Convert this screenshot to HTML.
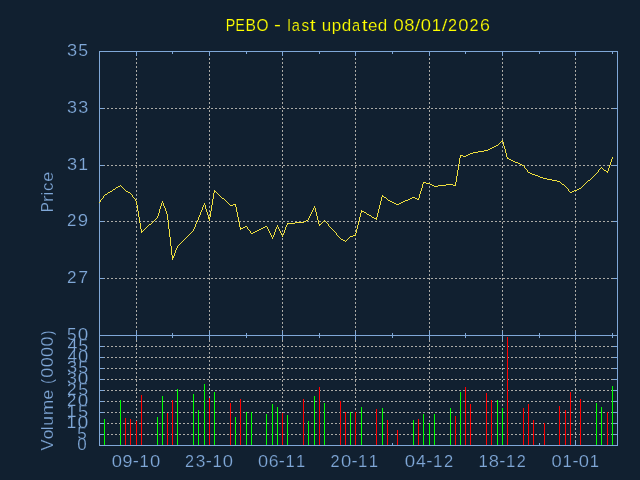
<!DOCTYPE html>
<html><head><meta charset="utf-8"><title>PEBO</title><style>
html,body{margin:0;padding:0;background:#112030;width:640px;height:480px;overflow:hidden}
svg{display:block;will-change:transform}
text{font-family:"Liberation Sans",sans-serif;font-size:17px;stroke:#112030;stroke-width:0.2px}
</style></head><body>
<svg width="640" height="480" viewBox="0 0 640 480">
<rect width="640" height="480" fill="#112030"/>

<path d="M99,278h2v1h-2zM103,278h2v1h-2zM107,278h2v1h-2zM111,278h2v1h-2zM115,278h2v1h-2zM119,278h2v1h-2zM123,278h2v1h-2zM127,278h2v1h-2zM131,278h2v1h-2zM135,278h2v1h-2zM139,278h2v1h-2zM143,278h2v1h-2zM147,278h2v1h-2zM151,278h2v1h-2zM155,278h2v1h-2zM159,278h2v1h-2zM163,278h2v1h-2zM167,278h2v1h-2zM171,278h2v1h-2zM175,278h2v1h-2zM179,278h2v1h-2zM183,278h2v1h-2zM187,278h2v1h-2zM191,278h2v1h-2zM195,278h2v1h-2zM199,278h2v1h-2zM203,278h2v1h-2zM207,278h2v1h-2zM211,278h2v1h-2zM215,278h2v1h-2zM219,278h2v1h-2zM223,278h2v1h-2zM227,278h2v1h-2zM231,278h2v1h-2zM235,278h2v1h-2zM239,278h2v1h-2zM243,278h2v1h-2zM247,278h2v1h-2zM251,278h2v1h-2zM255,278h2v1h-2zM259,278h2v1h-2zM263,278h2v1h-2zM267,278h2v1h-2zM271,278h2v1h-2zM275,278h2v1h-2zM279,278h2v1h-2zM283,278h2v1h-2zM287,278h2v1h-2zM291,278h2v1h-2zM295,278h2v1h-2zM299,278h2v1h-2zM303,278h2v1h-2zM307,278h2v1h-2zM311,278h2v1h-2zM315,278h2v1h-2zM319,278h2v1h-2zM323,278h2v1h-2zM327,278h2v1h-2zM331,278h2v1h-2zM335,278h2v1h-2zM339,278h2v1h-2zM343,278h2v1h-2zM347,278h2v1h-2zM351,278h2v1h-2zM355,278h2v1h-2zM359,278h2v1h-2zM363,278h2v1h-2zM367,278h2v1h-2zM371,278h2v1h-2zM375,278h2v1h-2zM379,278h2v1h-2zM383,278h2v1h-2zM387,278h2v1h-2zM391,278h2v1h-2zM395,278h2v1h-2zM399,278h2v1h-2zM403,278h2v1h-2zM407,278h2v1h-2zM411,278h2v1h-2zM415,278h2v1h-2zM419,278h2v1h-2zM423,278h2v1h-2zM427,278h2v1h-2zM431,278h2v1h-2zM435,278h2v1h-2zM439,278h2v1h-2zM443,278h2v1h-2zM447,278h2v1h-2zM451,278h2v1h-2zM455,278h2v1h-2zM459,278h2v1h-2zM463,278h2v1h-2zM467,278h2v1h-2zM471,278h2v1h-2zM475,278h2v1h-2zM479,278h2v1h-2zM483,278h2v1h-2zM487,278h2v1h-2zM491,278h2v1h-2zM495,278h2v1h-2zM499,278h2v1h-2zM503,278h2v1h-2zM507,278h2v1h-2zM511,278h2v1h-2zM515,278h2v1h-2zM519,278h2v1h-2zM523,278h2v1h-2zM527,278h2v1h-2zM531,278h2v1h-2zM535,278h2v1h-2zM539,278h2v1h-2zM543,278h2v1h-2zM547,278h2v1h-2zM551,278h2v1h-2zM555,278h2v1h-2zM559,278h2v1h-2zM563,278h2v1h-2zM567,278h2v1h-2zM571,278h2v1h-2zM575,278h2v1h-2zM579,278h2v1h-2zM583,278h2v1h-2zM587,278h2v1h-2zM591,278h2v1h-2zM595,278h2v1h-2zM599,278h2v1h-2zM603,278h2v1h-2zM607,278h2v1h-2zM611,278h2v1h-2zM615,278h2v1h-2zM99,221h2v1h-2zM103,221h2v1h-2zM107,221h2v1h-2zM111,221h2v1h-2zM115,221h2v1h-2zM119,221h2v1h-2zM123,221h2v1h-2zM127,221h2v1h-2zM131,221h2v1h-2zM135,221h2v1h-2zM139,221h2v1h-2zM143,221h2v1h-2zM147,221h2v1h-2zM151,221h2v1h-2zM155,221h2v1h-2zM159,221h2v1h-2zM163,221h2v1h-2zM167,221h2v1h-2zM171,221h2v1h-2zM175,221h2v1h-2zM179,221h2v1h-2zM183,221h2v1h-2zM187,221h2v1h-2zM191,221h2v1h-2zM195,221h2v1h-2zM199,221h2v1h-2zM203,221h2v1h-2zM207,221h2v1h-2zM211,221h2v1h-2zM215,221h2v1h-2zM219,221h2v1h-2zM223,221h2v1h-2zM227,221h2v1h-2zM231,221h2v1h-2zM235,221h2v1h-2zM239,221h2v1h-2zM243,221h2v1h-2zM247,221h2v1h-2zM251,221h2v1h-2zM255,221h2v1h-2zM259,221h2v1h-2zM263,221h2v1h-2zM267,221h2v1h-2zM271,221h2v1h-2zM275,221h2v1h-2zM279,221h2v1h-2zM283,221h2v1h-2zM287,221h2v1h-2zM291,221h2v1h-2zM295,221h2v1h-2zM299,221h2v1h-2zM303,221h2v1h-2zM307,221h2v1h-2zM311,221h2v1h-2zM315,221h2v1h-2zM319,221h2v1h-2zM323,221h2v1h-2zM327,221h2v1h-2zM331,221h2v1h-2zM335,221h2v1h-2zM339,221h2v1h-2zM343,221h2v1h-2zM347,221h2v1h-2zM351,221h2v1h-2zM355,221h2v1h-2zM359,221h2v1h-2zM363,221h2v1h-2zM367,221h2v1h-2zM371,221h2v1h-2zM375,221h2v1h-2zM379,221h2v1h-2zM383,221h2v1h-2zM387,221h2v1h-2zM391,221h2v1h-2zM395,221h2v1h-2zM399,221h2v1h-2zM403,221h2v1h-2zM407,221h2v1h-2zM411,221h2v1h-2zM415,221h2v1h-2zM419,221h2v1h-2zM423,221h2v1h-2zM427,221h2v1h-2zM431,221h2v1h-2zM435,221h2v1h-2zM439,221h2v1h-2zM443,221h2v1h-2zM447,221h2v1h-2zM451,221h2v1h-2zM455,221h2v1h-2zM459,221h2v1h-2zM463,221h2v1h-2zM467,221h2v1h-2zM471,221h2v1h-2zM475,221h2v1h-2zM479,221h2v1h-2zM483,221h2v1h-2zM487,221h2v1h-2zM491,221h2v1h-2zM495,221h2v1h-2zM499,221h2v1h-2zM503,221h2v1h-2zM507,221h2v1h-2zM511,221h2v1h-2zM515,221h2v1h-2zM519,221h2v1h-2zM523,221h2v1h-2zM527,221h2v1h-2zM531,221h2v1h-2zM535,221h2v1h-2zM539,221h2v1h-2zM543,221h2v1h-2zM547,221h2v1h-2zM551,221h2v1h-2zM555,221h2v1h-2zM559,221h2v1h-2zM563,221h2v1h-2zM567,221h2v1h-2zM571,221h2v1h-2zM575,221h2v1h-2zM579,221h2v1h-2zM583,221h2v1h-2zM587,221h2v1h-2zM591,221h2v1h-2zM595,221h2v1h-2zM599,221h2v1h-2zM603,221h2v1h-2zM607,221h2v1h-2zM611,221h2v1h-2zM615,221h2v1h-2zM99,165h2v1h-2zM103,165h2v1h-2zM107,165h2v1h-2zM111,165h2v1h-2zM115,165h2v1h-2zM119,165h2v1h-2zM123,165h2v1h-2zM127,165h2v1h-2zM131,165h2v1h-2zM135,165h2v1h-2zM139,165h2v1h-2zM143,165h2v1h-2zM147,165h2v1h-2zM151,165h2v1h-2zM155,165h2v1h-2zM159,165h2v1h-2zM163,165h2v1h-2zM167,165h2v1h-2zM171,165h2v1h-2zM175,165h2v1h-2zM179,165h2v1h-2zM183,165h2v1h-2zM187,165h2v1h-2zM191,165h2v1h-2zM195,165h2v1h-2zM199,165h2v1h-2zM203,165h2v1h-2zM207,165h2v1h-2zM211,165h2v1h-2zM215,165h2v1h-2zM219,165h2v1h-2zM223,165h2v1h-2zM227,165h2v1h-2zM231,165h2v1h-2zM235,165h2v1h-2zM239,165h2v1h-2zM243,165h2v1h-2zM247,165h2v1h-2zM251,165h2v1h-2zM255,165h2v1h-2zM259,165h2v1h-2zM263,165h2v1h-2zM267,165h2v1h-2zM271,165h2v1h-2zM275,165h2v1h-2zM279,165h2v1h-2zM283,165h2v1h-2zM287,165h2v1h-2zM291,165h2v1h-2zM295,165h2v1h-2zM299,165h2v1h-2zM303,165h2v1h-2zM307,165h2v1h-2zM311,165h2v1h-2zM315,165h2v1h-2zM319,165h2v1h-2zM323,165h2v1h-2zM327,165h2v1h-2zM331,165h2v1h-2zM335,165h2v1h-2zM339,165h2v1h-2zM343,165h2v1h-2zM347,165h2v1h-2zM351,165h2v1h-2zM355,165h2v1h-2zM359,165h2v1h-2zM363,165h2v1h-2zM367,165h2v1h-2zM371,165h2v1h-2zM375,165h2v1h-2zM379,165h2v1h-2zM383,165h2v1h-2zM387,165h2v1h-2zM391,165h2v1h-2zM395,165h2v1h-2zM399,165h2v1h-2zM403,165h2v1h-2zM407,165h2v1h-2zM411,165h2v1h-2zM415,165h2v1h-2zM419,165h2v1h-2zM423,165h2v1h-2zM427,165h2v1h-2zM431,165h2v1h-2zM435,165h2v1h-2zM439,165h2v1h-2zM443,165h2v1h-2zM447,165h2v1h-2zM451,165h2v1h-2zM455,165h2v1h-2zM459,165h2v1h-2zM463,165h2v1h-2zM467,165h2v1h-2zM471,165h2v1h-2zM475,165h2v1h-2zM479,165h2v1h-2zM483,165h2v1h-2zM487,165h2v1h-2zM491,165h2v1h-2zM495,165h2v1h-2zM499,165h2v1h-2zM503,165h2v1h-2zM507,165h2v1h-2zM511,165h2v1h-2zM515,165h2v1h-2zM519,165h2v1h-2zM523,165h2v1h-2zM527,165h2v1h-2zM531,165h2v1h-2zM535,165h2v1h-2zM539,165h2v1h-2zM543,165h2v1h-2zM547,165h2v1h-2zM551,165h2v1h-2zM555,165h2v1h-2zM559,165h2v1h-2zM563,165h2v1h-2zM567,165h2v1h-2zM571,165h2v1h-2zM575,165h2v1h-2zM579,165h2v1h-2zM583,165h2v1h-2zM587,165h2v1h-2zM591,165h2v1h-2zM595,165h2v1h-2zM599,165h2v1h-2zM603,165h2v1h-2zM607,165h2v1h-2zM611,165h2v1h-2zM615,165h2v1h-2zM99,108h2v1h-2zM103,108h2v1h-2zM107,108h2v1h-2zM111,108h2v1h-2zM115,108h2v1h-2zM119,108h2v1h-2zM123,108h2v1h-2zM127,108h2v1h-2zM131,108h2v1h-2zM135,108h2v1h-2zM139,108h2v1h-2zM143,108h2v1h-2zM147,108h2v1h-2zM151,108h2v1h-2zM155,108h2v1h-2zM159,108h2v1h-2zM163,108h2v1h-2zM167,108h2v1h-2zM171,108h2v1h-2zM175,108h2v1h-2zM179,108h2v1h-2zM183,108h2v1h-2zM187,108h2v1h-2zM191,108h2v1h-2zM195,108h2v1h-2zM199,108h2v1h-2zM203,108h2v1h-2zM207,108h2v1h-2zM211,108h2v1h-2zM215,108h2v1h-2zM219,108h2v1h-2zM223,108h2v1h-2zM227,108h2v1h-2zM231,108h2v1h-2zM235,108h2v1h-2zM239,108h2v1h-2zM243,108h2v1h-2zM247,108h2v1h-2zM251,108h2v1h-2zM255,108h2v1h-2zM259,108h2v1h-2zM263,108h2v1h-2zM267,108h2v1h-2zM271,108h2v1h-2zM275,108h2v1h-2zM279,108h2v1h-2zM283,108h2v1h-2zM287,108h2v1h-2zM291,108h2v1h-2zM295,108h2v1h-2zM299,108h2v1h-2zM303,108h2v1h-2zM307,108h2v1h-2zM311,108h2v1h-2zM315,108h2v1h-2zM319,108h2v1h-2zM323,108h2v1h-2zM327,108h2v1h-2zM331,108h2v1h-2zM335,108h2v1h-2zM339,108h2v1h-2zM343,108h2v1h-2zM347,108h2v1h-2zM351,108h2v1h-2zM355,108h2v1h-2zM359,108h2v1h-2zM363,108h2v1h-2zM367,108h2v1h-2zM371,108h2v1h-2zM375,108h2v1h-2zM379,108h2v1h-2zM383,108h2v1h-2zM387,108h2v1h-2zM391,108h2v1h-2zM395,108h2v1h-2zM399,108h2v1h-2zM403,108h2v1h-2zM407,108h2v1h-2zM411,108h2v1h-2zM415,108h2v1h-2zM419,108h2v1h-2zM423,108h2v1h-2zM427,108h2v1h-2zM431,108h2v1h-2zM435,108h2v1h-2zM439,108h2v1h-2zM443,108h2v1h-2zM447,108h2v1h-2zM451,108h2v1h-2zM455,108h2v1h-2zM459,108h2v1h-2zM463,108h2v1h-2zM467,108h2v1h-2zM471,108h2v1h-2zM475,108h2v1h-2zM479,108h2v1h-2zM483,108h2v1h-2zM487,108h2v1h-2zM491,108h2v1h-2zM495,108h2v1h-2zM499,108h2v1h-2zM503,108h2v1h-2zM507,108h2v1h-2zM511,108h2v1h-2zM515,108h2v1h-2zM519,108h2v1h-2zM523,108h2v1h-2zM527,108h2v1h-2zM531,108h2v1h-2zM535,108h2v1h-2zM539,108h2v1h-2zM543,108h2v1h-2zM547,108h2v1h-2zM551,108h2v1h-2zM555,108h2v1h-2zM559,108h2v1h-2zM563,108h2v1h-2zM567,108h2v1h-2zM571,108h2v1h-2zM575,108h2v1h-2zM579,108h2v1h-2zM583,108h2v1h-2zM587,108h2v1h-2zM591,108h2v1h-2zM595,108h2v1h-2zM599,108h2v1h-2zM603,108h2v1h-2zM607,108h2v1h-2zM611,108h2v1h-2zM615,108h2v1h-2zM99,434h2v1h-2zM103,434h2v1h-2zM107,434h2v1h-2zM111,434h2v1h-2zM115,434h2v1h-2zM119,434h2v1h-2zM123,434h2v1h-2zM127,434h2v1h-2zM131,434h2v1h-2zM135,434h2v1h-2zM139,434h2v1h-2zM143,434h2v1h-2zM147,434h2v1h-2zM151,434h2v1h-2zM155,434h2v1h-2zM159,434h2v1h-2zM163,434h2v1h-2zM167,434h2v1h-2zM171,434h2v1h-2zM175,434h2v1h-2zM179,434h2v1h-2zM183,434h2v1h-2zM187,434h2v1h-2zM191,434h2v1h-2zM195,434h2v1h-2zM199,434h2v1h-2zM203,434h2v1h-2zM207,434h2v1h-2zM211,434h2v1h-2zM215,434h2v1h-2zM219,434h2v1h-2zM223,434h2v1h-2zM227,434h2v1h-2zM231,434h2v1h-2zM235,434h2v1h-2zM239,434h2v1h-2zM243,434h2v1h-2zM247,434h2v1h-2zM251,434h2v1h-2zM255,434h2v1h-2zM259,434h2v1h-2zM263,434h2v1h-2zM267,434h2v1h-2zM271,434h2v1h-2zM275,434h2v1h-2zM279,434h2v1h-2zM283,434h2v1h-2zM287,434h2v1h-2zM291,434h2v1h-2zM295,434h2v1h-2zM299,434h2v1h-2zM303,434h2v1h-2zM307,434h2v1h-2zM311,434h2v1h-2zM315,434h2v1h-2zM319,434h2v1h-2zM323,434h2v1h-2zM327,434h2v1h-2zM331,434h2v1h-2zM335,434h2v1h-2zM339,434h2v1h-2zM343,434h2v1h-2zM347,434h2v1h-2zM351,434h2v1h-2zM355,434h2v1h-2zM359,434h2v1h-2zM363,434h2v1h-2zM367,434h2v1h-2zM371,434h2v1h-2zM375,434h2v1h-2zM379,434h2v1h-2zM383,434h2v1h-2zM387,434h2v1h-2zM391,434h2v1h-2zM395,434h2v1h-2zM399,434h2v1h-2zM403,434h2v1h-2zM407,434h2v1h-2zM411,434h2v1h-2zM415,434h2v1h-2zM419,434h2v1h-2zM423,434h2v1h-2zM427,434h2v1h-2zM431,434h2v1h-2zM435,434h2v1h-2zM439,434h2v1h-2zM443,434h2v1h-2zM447,434h2v1h-2zM451,434h2v1h-2zM455,434h2v1h-2zM459,434h2v1h-2zM463,434h2v1h-2zM467,434h2v1h-2zM471,434h2v1h-2zM475,434h2v1h-2zM479,434h2v1h-2zM483,434h2v1h-2zM487,434h2v1h-2zM491,434h2v1h-2zM495,434h2v1h-2zM499,434h2v1h-2zM503,434h2v1h-2zM507,434h2v1h-2zM511,434h2v1h-2zM515,434h2v1h-2zM519,434h2v1h-2zM523,434h2v1h-2zM527,434h2v1h-2zM531,434h2v1h-2zM535,434h2v1h-2zM539,434h2v1h-2zM543,434h2v1h-2zM547,434h2v1h-2zM551,434h2v1h-2zM555,434h2v1h-2zM559,434h2v1h-2zM563,434h2v1h-2zM567,434h2v1h-2zM571,434h2v1h-2zM575,434h2v1h-2zM579,434h2v1h-2zM583,434h2v1h-2zM587,434h2v1h-2zM591,434h2v1h-2zM595,434h2v1h-2zM599,434h2v1h-2zM603,434h2v1h-2zM607,434h2v1h-2zM611,434h2v1h-2zM615,434h2v1h-2zM99,423h2v1h-2zM103,423h2v1h-2zM107,423h2v1h-2zM111,423h2v1h-2zM115,423h2v1h-2zM119,423h2v1h-2zM123,423h2v1h-2zM127,423h2v1h-2zM131,423h2v1h-2zM135,423h2v1h-2zM139,423h2v1h-2zM143,423h2v1h-2zM147,423h2v1h-2zM151,423h2v1h-2zM155,423h2v1h-2zM159,423h2v1h-2zM163,423h2v1h-2zM167,423h2v1h-2zM171,423h2v1h-2zM175,423h2v1h-2zM179,423h2v1h-2zM183,423h2v1h-2zM187,423h2v1h-2zM191,423h2v1h-2zM195,423h2v1h-2zM199,423h2v1h-2zM203,423h2v1h-2zM207,423h2v1h-2zM211,423h2v1h-2zM215,423h2v1h-2zM219,423h2v1h-2zM223,423h2v1h-2zM227,423h2v1h-2zM231,423h2v1h-2zM235,423h2v1h-2zM239,423h2v1h-2zM243,423h2v1h-2zM247,423h2v1h-2zM251,423h2v1h-2zM255,423h2v1h-2zM259,423h2v1h-2zM263,423h2v1h-2zM267,423h2v1h-2zM271,423h2v1h-2zM275,423h2v1h-2zM279,423h2v1h-2zM283,423h2v1h-2zM287,423h2v1h-2zM291,423h2v1h-2zM295,423h2v1h-2zM299,423h2v1h-2zM303,423h2v1h-2zM307,423h2v1h-2zM311,423h2v1h-2zM315,423h2v1h-2zM319,423h2v1h-2zM323,423h2v1h-2zM327,423h2v1h-2zM331,423h2v1h-2zM335,423h2v1h-2zM339,423h2v1h-2zM343,423h2v1h-2zM347,423h2v1h-2zM351,423h2v1h-2zM355,423h2v1h-2zM359,423h2v1h-2zM363,423h2v1h-2zM367,423h2v1h-2zM371,423h2v1h-2zM375,423h2v1h-2zM379,423h2v1h-2zM383,423h2v1h-2zM387,423h2v1h-2zM391,423h2v1h-2zM395,423h2v1h-2zM399,423h2v1h-2zM403,423h2v1h-2zM407,423h2v1h-2zM411,423h2v1h-2zM415,423h2v1h-2zM419,423h2v1h-2zM423,423h2v1h-2zM427,423h2v1h-2zM431,423h2v1h-2zM435,423h2v1h-2zM439,423h2v1h-2zM443,423h2v1h-2zM447,423h2v1h-2zM451,423h2v1h-2zM455,423h2v1h-2zM459,423h2v1h-2zM463,423h2v1h-2zM467,423h2v1h-2zM471,423h2v1h-2zM475,423h2v1h-2zM479,423h2v1h-2zM483,423h2v1h-2zM487,423h2v1h-2zM491,423h2v1h-2zM495,423h2v1h-2zM499,423h2v1h-2zM503,423h2v1h-2zM507,423h2v1h-2zM511,423h2v1h-2zM515,423h2v1h-2zM519,423h2v1h-2zM523,423h2v1h-2zM527,423h2v1h-2zM531,423h2v1h-2zM535,423h2v1h-2zM539,423h2v1h-2zM543,423h2v1h-2zM547,423h2v1h-2zM551,423h2v1h-2zM555,423h2v1h-2zM559,423h2v1h-2zM563,423h2v1h-2zM567,423h2v1h-2zM571,423h2v1h-2zM575,423h2v1h-2zM579,423h2v1h-2zM583,423h2v1h-2zM587,423h2v1h-2zM591,423h2v1h-2zM595,423h2v1h-2zM599,423h2v1h-2zM603,423h2v1h-2zM607,423h2v1h-2zM611,423h2v1h-2zM615,423h2v1h-2zM99,412h2v1h-2zM103,412h2v1h-2zM107,412h2v1h-2zM111,412h2v1h-2zM115,412h2v1h-2zM119,412h2v1h-2zM123,412h2v1h-2zM127,412h2v1h-2zM131,412h2v1h-2zM135,412h2v1h-2zM139,412h2v1h-2zM143,412h2v1h-2zM147,412h2v1h-2zM151,412h2v1h-2zM155,412h2v1h-2zM159,412h2v1h-2zM163,412h2v1h-2zM167,412h2v1h-2zM171,412h2v1h-2zM175,412h2v1h-2zM179,412h2v1h-2zM183,412h2v1h-2zM187,412h2v1h-2zM191,412h2v1h-2zM195,412h2v1h-2zM199,412h2v1h-2zM203,412h2v1h-2zM207,412h2v1h-2zM211,412h2v1h-2zM215,412h2v1h-2zM219,412h2v1h-2zM223,412h2v1h-2zM227,412h2v1h-2zM231,412h2v1h-2zM235,412h2v1h-2zM239,412h2v1h-2zM243,412h2v1h-2zM247,412h2v1h-2zM251,412h2v1h-2zM255,412h2v1h-2zM259,412h2v1h-2zM263,412h2v1h-2zM267,412h2v1h-2zM271,412h2v1h-2zM275,412h2v1h-2zM279,412h2v1h-2zM283,412h2v1h-2zM287,412h2v1h-2zM291,412h2v1h-2zM295,412h2v1h-2zM299,412h2v1h-2zM303,412h2v1h-2zM307,412h2v1h-2zM311,412h2v1h-2zM315,412h2v1h-2zM319,412h2v1h-2zM323,412h2v1h-2zM327,412h2v1h-2zM331,412h2v1h-2zM335,412h2v1h-2zM339,412h2v1h-2zM343,412h2v1h-2zM347,412h2v1h-2zM351,412h2v1h-2zM355,412h2v1h-2zM359,412h2v1h-2zM363,412h2v1h-2zM367,412h2v1h-2zM371,412h2v1h-2zM375,412h2v1h-2zM379,412h2v1h-2zM383,412h2v1h-2zM387,412h2v1h-2zM391,412h2v1h-2zM395,412h2v1h-2zM399,412h2v1h-2zM403,412h2v1h-2zM407,412h2v1h-2zM411,412h2v1h-2zM415,412h2v1h-2zM419,412h2v1h-2zM423,412h2v1h-2zM427,412h2v1h-2zM431,412h2v1h-2zM435,412h2v1h-2zM439,412h2v1h-2zM443,412h2v1h-2zM447,412h2v1h-2zM451,412h2v1h-2zM455,412h2v1h-2zM459,412h2v1h-2zM463,412h2v1h-2zM467,412h2v1h-2zM471,412h2v1h-2zM475,412h2v1h-2zM479,412h2v1h-2zM483,412h2v1h-2zM487,412h2v1h-2zM491,412h2v1h-2zM495,412h2v1h-2zM499,412h2v1h-2zM503,412h2v1h-2zM507,412h2v1h-2zM511,412h2v1h-2zM515,412h2v1h-2zM519,412h2v1h-2zM523,412h2v1h-2zM527,412h2v1h-2zM531,412h2v1h-2zM535,412h2v1h-2zM539,412h2v1h-2zM543,412h2v1h-2zM547,412h2v1h-2zM551,412h2v1h-2zM555,412h2v1h-2zM559,412h2v1h-2zM563,412h2v1h-2zM567,412h2v1h-2zM571,412h2v1h-2zM575,412h2v1h-2zM579,412h2v1h-2zM583,412h2v1h-2zM587,412h2v1h-2zM591,412h2v1h-2zM595,412h2v1h-2zM599,412h2v1h-2zM603,412h2v1h-2zM607,412h2v1h-2zM611,412h2v1h-2zM615,412h2v1h-2zM99,401h2v1h-2zM103,401h2v1h-2zM107,401h2v1h-2zM111,401h2v1h-2zM115,401h2v1h-2zM119,401h2v1h-2zM123,401h2v1h-2zM127,401h2v1h-2zM131,401h2v1h-2zM135,401h2v1h-2zM139,401h2v1h-2zM143,401h2v1h-2zM147,401h2v1h-2zM151,401h2v1h-2zM155,401h2v1h-2zM159,401h2v1h-2zM163,401h2v1h-2zM167,401h2v1h-2zM171,401h2v1h-2zM175,401h2v1h-2zM179,401h2v1h-2zM183,401h2v1h-2zM187,401h2v1h-2zM191,401h2v1h-2zM195,401h2v1h-2zM199,401h2v1h-2zM203,401h2v1h-2zM207,401h2v1h-2zM211,401h2v1h-2zM215,401h2v1h-2zM219,401h2v1h-2zM223,401h2v1h-2zM227,401h2v1h-2zM231,401h2v1h-2zM235,401h2v1h-2zM239,401h2v1h-2zM243,401h2v1h-2zM247,401h2v1h-2zM251,401h2v1h-2zM255,401h2v1h-2zM259,401h2v1h-2zM263,401h2v1h-2zM267,401h2v1h-2zM271,401h2v1h-2zM275,401h2v1h-2zM279,401h2v1h-2zM283,401h2v1h-2zM287,401h2v1h-2zM291,401h2v1h-2zM295,401h2v1h-2zM299,401h2v1h-2zM303,401h2v1h-2zM307,401h2v1h-2zM311,401h2v1h-2zM315,401h2v1h-2zM319,401h2v1h-2zM323,401h2v1h-2zM327,401h2v1h-2zM331,401h2v1h-2zM335,401h2v1h-2zM339,401h2v1h-2zM343,401h2v1h-2zM347,401h2v1h-2zM351,401h2v1h-2zM355,401h2v1h-2zM359,401h2v1h-2zM363,401h2v1h-2zM367,401h2v1h-2zM371,401h2v1h-2zM375,401h2v1h-2zM379,401h2v1h-2zM383,401h2v1h-2zM387,401h2v1h-2zM391,401h2v1h-2zM395,401h2v1h-2zM399,401h2v1h-2zM403,401h2v1h-2zM407,401h2v1h-2zM411,401h2v1h-2zM415,401h2v1h-2zM419,401h2v1h-2zM423,401h2v1h-2zM427,401h2v1h-2zM431,401h2v1h-2zM435,401h2v1h-2zM439,401h2v1h-2zM443,401h2v1h-2zM447,401h2v1h-2zM451,401h2v1h-2zM455,401h2v1h-2zM459,401h2v1h-2zM463,401h2v1h-2zM467,401h2v1h-2zM471,401h2v1h-2zM475,401h2v1h-2zM479,401h2v1h-2zM483,401h2v1h-2zM487,401h2v1h-2zM491,401h2v1h-2zM495,401h2v1h-2zM499,401h2v1h-2zM503,401h2v1h-2zM507,401h2v1h-2zM511,401h2v1h-2zM515,401h2v1h-2zM519,401h2v1h-2zM523,401h2v1h-2zM527,401h2v1h-2zM531,401h2v1h-2zM535,401h2v1h-2zM539,401h2v1h-2zM543,401h2v1h-2zM547,401h2v1h-2zM551,401h2v1h-2zM555,401h2v1h-2zM559,401h2v1h-2zM563,401h2v1h-2zM567,401h2v1h-2zM571,401h2v1h-2zM575,401h2v1h-2zM579,401h2v1h-2zM583,401h2v1h-2zM587,401h2v1h-2zM591,401h2v1h-2zM595,401h2v1h-2zM599,401h2v1h-2zM603,401h2v1h-2zM607,401h2v1h-2zM611,401h2v1h-2zM615,401h2v1h-2zM99,390h2v1h-2zM103,390h2v1h-2zM107,390h2v1h-2zM111,390h2v1h-2zM115,390h2v1h-2zM119,390h2v1h-2zM123,390h2v1h-2zM127,390h2v1h-2zM131,390h2v1h-2zM135,390h2v1h-2zM139,390h2v1h-2zM143,390h2v1h-2zM147,390h2v1h-2zM151,390h2v1h-2zM155,390h2v1h-2zM159,390h2v1h-2zM163,390h2v1h-2zM167,390h2v1h-2zM171,390h2v1h-2zM175,390h2v1h-2zM179,390h2v1h-2zM183,390h2v1h-2zM187,390h2v1h-2zM191,390h2v1h-2zM195,390h2v1h-2zM199,390h2v1h-2zM203,390h2v1h-2zM207,390h2v1h-2zM211,390h2v1h-2zM215,390h2v1h-2zM219,390h2v1h-2zM223,390h2v1h-2zM227,390h2v1h-2zM231,390h2v1h-2zM235,390h2v1h-2zM239,390h2v1h-2zM243,390h2v1h-2zM247,390h2v1h-2zM251,390h2v1h-2zM255,390h2v1h-2zM259,390h2v1h-2zM263,390h2v1h-2zM267,390h2v1h-2zM271,390h2v1h-2zM275,390h2v1h-2zM279,390h2v1h-2zM283,390h2v1h-2zM287,390h2v1h-2zM291,390h2v1h-2zM295,390h2v1h-2zM299,390h2v1h-2zM303,390h2v1h-2zM307,390h2v1h-2zM311,390h2v1h-2zM315,390h2v1h-2zM319,390h2v1h-2zM323,390h2v1h-2zM327,390h2v1h-2zM331,390h2v1h-2zM335,390h2v1h-2zM339,390h2v1h-2zM343,390h2v1h-2zM347,390h2v1h-2zM351,390h2v1h-2zM355,390h2v1h-2zM359,390h2v1h-2zM363,390h2v1h-2zM367,390h2v1h-2zM371,390h2v1h-2zM375,390h2v1h-2zM379,390h2v1h-2zM383,390h2v1h-2zM387,390h2v1h-2zM391,390h2v1h-2zM395,390h2v1h-2zM399,390h2v1h-2zM403,390h2v1h-2zM407,390h2v1h-2zM411,390h2v1h-2zM415,390h2v1h-2zM419,390h2v1h-2zM423,390h2v1h-2zM427,390h2v1h-2zM431,390h2v1h-2zM435,390h2v1h-2zM439,390h2v1h-2zM443,390h2v1h-2zM447,390h2v1h-2zM451,390h2v1h-2zM455,390h2v1h-2zM459,390h2v1h-2zM463,390h2v1h-2zM467,390h2v1h-2zM471,390h2v1h-2zM475,390h2v1h-2zM479,390h2v1h-2zM483,390h2v1h-2zM487,390h2v1h-2zM491,390h2v1h-2zM495,390h2v1h-2zM499,390h2v1h-2zM503,390h2v1h-2zM507,390h2v1h-2zM511,390h2v1h-2zM515,390h2v1h-2zM519,390h2v1h-2zM523,390h2v1h-2zM527,390h2v1h-2zM531,390h2v1h-2zM535,390h2v1h-2zM539,390h2v1h-2zM543,390h2v1h-2zM547,390h2v1h-2zM551,390h2v1h-2zM555,390h2v1h-2zM559,390h2v1h-2zM563,390h2v1h-2zM567,390h2v1h-2zM571,390h2v1h-2zM575,390h2v1h-2zM579,390h2v1h-2zM583,390h2v1h-2zM587,390h2v1h-2zM591,390h2v1h-2zM595,390h2v1h-2zM599,390h2v1h-2zM603,390h2v1h-2zM607,390h2v1h-2zM611,390h2v1h-2zM615,390h2v1h-2zM99,379h2v1h-2zM103,379h2v1h-2zM107,379h2v1h-2zM111,379h2v1h-2zM115,379h2v1h-2zM119,379h2v1h-2zM123,379h2v1h-2zM127,379h2v1h-2zM131,379h2v1h-2zM135,379h2v1h-2zM139,379h2v1h-2zM143,379h2v1h-2zM147,379h2v1h-2zM151,379h2v1h-2zM155,379h2v1h-2zM159,379h2v1h-2zM163,379h2v1h-2zM167,379h2v1h-2zM171,379h2v1h-2zM175,379h2v1h-2zM179,379h2v1h-2zM183,379h2v1h-2zM187,379h2v1h-2zM191,379h2v1h-2zM195,379h2v1h-2zM199,379h2v1h-2zM203,379h2v1h-2zM207,379h2v1h-2zM211,379h2v1h-2zM215,379h2v1h-2zM219,379h2v1h-2zM223,379h2v1h-2zM227,379h2v1h-2zM231,379h2v1h-2zM235,379h2v1h-2zM239,379h2v1h-2zM243,379h2v1h-2zM247,379h2v1h-2zM251,379h2v1h-2zM255,379h2v1h-2zM259,379h2v1h-2zM263,379h2v1h-2zM267,379h2v1h-2zM271,379h2v1h-2zM275,379h2v1h-2zM279,379h2v1h-2zM283,379h2v1h-2zM287,379h2v1h-2zM291,379h2v1h-2zM295,379h2v1h-2zM299,379h2v1h-2zM303,379h2v1h-2zM307,379h2v1h-2zM311,379h2v1h-2zM315,379h2v1h-2zM319,379h2v1h-2zM323,379h2v1h-2zM327,379h2v1h-2zM331,379h2v1h-2zM335,379h2v1h-2zM339,379h2v1h-2zM343,379h2v1h-2zM347,379h2v1h-2zM351,379h2v1h-2zM355,379h2v1h-2zM359,379h2v1h-2zM363,379h2v1h-2zM367,379h2v1h-2zM371,379h2v1h-2zM375,379h2v1h-2zM379,379h2v1h-2zM383,379h2v1h-2zM387,379h2v1h-2zM391,379h2v1h-2zM395,379h2v1h-2zM399,379h2v1h-2zM403,379h2v1h-2zM407,379h2v1h-2zM411,379h2v1h-2zM415,379h2v1h-2zM419,379h2v1h-2zM423,379h2v1h-2zM427,379h2v1h-2zM431,379h2v1h-2zM435,379h2v1h-2zM439,379h2v1h-2zM443,379h2v1h-2zM447,379h2v1h-2zM451,379h2v1h-2zM455,379h2v1h-2zM459,379h2v1h-2zM463,379h2v1h-2zM467,379h2v1h-2zM471,379h2v1h-2zM475,379h2v1h-2zM479,379h2v1h-2zM483,379h2v1h-2zM487,379h2v1h-2zM491,379h2v1h-2zM495,379h2v1h-2zM499,379h2v1h-2zM503,379h2v1h-2zM507,379h2v1h-2zM511,379h2v1h-2zM515,379h2v1h-2zM519,379h2v1h-2zM523,379h2v1h-2zM527,379h2v1h-2zM531,379h2v1h-2zM535,379h2v1h-2zM539,379h2v1h-2zM543,379h2v1h-2zM547,379h2v1h-2zM551,379h2v1h-2zM555,379h2v1h-2zM559,379h2v1h-2zM563,379h2v1h-2zM567,379h2v1h-2zM571,379h2v1h-2zM575,379h2v1h-2zM579,379h2v1h-2zM583,379h2v1h-2zM587,379h2v1h-2zM591,379h2v1h-2zM595,379h2v1h-2zM599,379h2v1h-2zM603,379h2v1h-2zM607,379h2v1h-2zM611,379h2v1h-2zM615,379h2v1h-2zM99,368h2v1h-2zM103,368h2v1h-2zM107,368h2v1h-2zM111,368h2v1h-2zM115,368h2v1h-2zM119,368h2v1h-2zM123,368h2v1h-2zM127,368h2v1h-2zM131,368h2v1h-2zM135,368h2v1h-2zM139,368h2v1h-2zM143,368h2v1h-2zM147,368h2v1h-2zM151,368h2v1h-2zM155,368h2v1h-2zM159,368h2v1h-2zM163,368h2v1h-2zM167,368h2v1h-2zM171,368h2v1h-2zM175,368h2v1h-2zM179,368h2v1h-2zM183,368h2v1h-2zM187,368h2v1h-2zM191,368h2v1h-2zM195,368h2v1h-2zM199,368h2v1h-2zM203,368h2v1h-2zM207,368h2v1h-2zM211,368h2v1h-2zM215,368h2v1h-2zM219,368h2v1h-2zM223,368h2v1h-2zM227,368h2v1h-2zM231,368h2v1h-2zM235,368h2v1h-2zM239,368h2v1h-2zM243,368h2v1h-2zM247,368h2v1h-2zM251,368h2v1h-2zM255,368h2v1h-2zM259,368h2v1h-2zM263,368h2v1h-2zM267,368h2v1h-2zM271,368h2v1h-2zM275,368h2v1h-2zM279,368h2v1h-2zM283,368h2v1h-2zM287,368h2v1h-2zM291,368h2v1h-2zM295,368h2v1h-2zM299,368h2v1h-2zM303,368h2v1h-2zM307,368h2v1h-2zM311,368h2v1h-2zM315,368h2v1h-2zM319,368h2v1h-2zM323,368h2v1h-2zM327,368h2v1h-2zM331,368h2v1h-2zM335,368h2v1h-2zM339,368h2v1h-2zM343,368h2v1h-2zM347,368h2v1h-2zM351,368h2v1h-2zM355,368h2v1h-2zM359,368h2v1h-2zM363,368h2v1h-2zM367,368h2v1h-2zM371,368h2v1h-2zM375,368h2v1h-2zM379,368h2v1h-2zM383,368h2v1h-2zM387,368h2v1h-2zM391,368h2v1h-2zM395,368h2v1h-2zM399,368h2v1h-2zM403,368h2v1h-2zM407,368h2v1h-2zM411,368h2v1h-2zM415,368h2v1h-2zM419,368h2v1h-2zM423,368h2v1h-2zM427,368h2v1h-2zM431,368h2v1h-2zM435,368h2v1h-2zM439,368h2v1h-2zM443,368h2v1h-2zM447,368h2v1h-2zM451,368h2v1h-2zM455,368h2v1h-2zM459,368h2v1h-2zM463,368h2v1h-2zM467,368h2v1h-2zM471,368h2v1h-2zM475,368h2v1h-2zM479,368h2v1h-2zM483,368h2v1h-2zM487,368h2v1h-2zM491,368h2v1h-2zM495,368h2v1h-2zM499,368h2v1h-2zM503,368h2v1h-2zM507,368h2v1h-2zM511,368h2v1h-2zM515,368h2v1h-2zM519,368h2v1h-2zM523,368h2v1h-2zM527,368h2v1h-2zM531,368h2v1h-2zM535,368h2v1h-2zM539,368h2v1h-2zM543,368h2v1h-2zM547,368h2v1h-2zM551,368h2v1h-2zM555,368h2v1h-2zM559,368h2v1h-2zM563,368h2v1h-2zM567,368h2v1h-2zM571,368h2v1h-2zM575,368h2v1h-2zM579,368h2v1h-2zM583,368h2v1h-2zM587,368h2v1h-2zM591,368h2v1h-2zM595,368h2v1h-2zM599,368h2v1h-2zM603,368h2v1h-2zM607,368h2v1h-2zM611,368h2v1h-2zM615,368h2v1h-2zM99,357h2v1h-2zM103,357h2v1h-2zM107,357h2v1h-2zM111,357h2v1h-2zM115,357h2v1h-2zM119,357h2v1h-2zM123,357h2v1h-2zM127,357h2v1h-2zM131,357h2v1h-2zM135,357h2v1h-2zM139,357h2v1h-2zM143,357h2v1h-2zM147,357h2v1h-2zM151,357h2v1h-2zM155,357h2v1h-2zM159,357h2v1h-2zM163,357h2v1h-2zM167,357h2v1h-2zM171,357h2v1h-2zM175,357h2v1h-2zM179,357h2v1h-2zM183,357h2v1h-2zM187,357h2v1h-2zM191,357h2v1h-2zM195,357h2v1h-2zM199,357h2v1h-2zM203,357h2v1h-2zM207,357h2v1h-2zM211,357h2v1h-2zM215,357h2v1h-2zM219,357h2v1h-2zM223,357h2v1h-2zM227,357h2v1h-2zM231,357h2v1h-2zM235,357h2v1h-2zM239,357h2v1h-2zM243,357h2v1h-2zM247,357h2v1h-2zM251,357h2v1h-2zM255,357h2v1h-2zM259,357h2v1h-2zM263,357h2v1h-2zM267,357h2v1h-2zM271,357h2v1h-2zM275,357h2v1h-2zM279,357h2v1h-2zM283,357h2v1h-2zM287,357h2v1h-2zM291,357h2v1h-2zM295,357h2v1h-2zM299,357h2v1h-2zM303,357h2v1h-2zM307,357h2v1h-2zM311,357h2v1h-2zM315,357h2v1h-2zM319,357h2v1h-2zM323,357h2v1h-2zM327,357h2v1h-2zM331,357h2v1h-2zM335,357h2v1h-2zM339,357h2v1h-2zM343,357h2v1h-2zM347,357h2v1h-2zM351,357h2v1h-2zM355,357h2v1h-2zM359,357h2v1h-2zM363,357h2v1h-2zM367,357h2v1h-2zM371,357h2v1h-2zM375,357h2v1h-2zM379,357h2v1h-2zM383,357h2v1h-2zM387,357h2v1h-2zM391,357h2v1h-2zM395,357h2v1h-2zM399,357h2v1h-2zM403,357h2v1h-2zM407,357h2v1h-2zM411,357h2v1h-2zM415,357h2v1h-2zM419,357h2v1h-2zM423,357h2v1h-2zM427,357h2v1h-2zM431,357h2v1h-2zM435,357h2v1h-2zM439,357h2v1h-2zM443,357h2v1h-2zM447,357h2v1h-2zM451,357h2v1h-2zM455,357h2v1h-2zM459,357h2v1h-2zM463,357h2v1h-2zM467,357h2v1h-2zM471,357h2v1h-2zM475,357h2v1h-2zM479,357h2v1h-2zM483,357h2v1h-2zM487,357h2v1h-2zM491,357h2v1h-2zM495,357h2v1h-2zM499,357h2v1h-2zM503,357h2v1h-2zM507,357h2v1h-2zM511,357h2v1h-2zM515,357h2v1h-2zM519,357h2v1h-2zM523,357h2v1h-2zM527,357h2v1h-2zM531,357h2v1h-2zM535,357h2v1h-2zM539,357h2v1h-2zM543,357h2v1h-2zM547,357h2v1h-2zM551,357h2v1h-2zM555,357h2v1h-2zM559,357h2v1h-2zM563,357h2v1h-2zM567,357h2v1h-2zM571,357h2v1h-2zM575,357h2v1h-2zM579,357h2v1h-2zM583,357h2v1h-2zM587,357h2v1h-2zM591,357h2v1h-2zM595,357h2v1h-2zM599,357h2v1h-2zM603,357h2v1h-2zM607,357h2v1h-2zM611,357h2v1h-2zM615,357h2v1h-2zM99,346h2v1h-2zM103,346h2v1h-2zM107,346h2v1h-2zM111,346h2v1h-2zM115,346h2v1h-2zM119,346h2v1h-2zM123,346h2v1h-2zM127,346h2v1h-2zM131,346h2v1h-2zM135,346h2v1h-2zM139,346h2v1h-2zM143,346h2v1h-2zM147,346h2v1h-2zM151,346h2v1h-2zM155,346h2v1h-2zM159,346h2v1h-2zM163,346h2v1h-2zM167,346h2v1h-2zM171,346h2v1h-2zM175,346h2v1h-2zM179,346h2v1h-2zM183,346h2v1h-2zM187,346h2v1h-2zM191,346h2v1h-2zM195,346h2v1h-2zM199,346h2v1h-2zM203,346h2v1h-2zM207,346h2v1h-2zM211,346h2v1h-2zM215,346h2v1h-2zM219,346h2v1h-2zM223,346h2v1h-2zM227,346h2v1h-2zM231,346h2v1h-2zM235,346h2v1h-2zM239,346h2v1h-2zM243,346h2v1h-2zM247,346h2v1h-2zM251,346h2v1h-2zM255,346h2v1h-2zM259,346h2v1h-2zM263,346h2v1h-2zM267,346h2v1h-2zM271,346h2v1h-2zM275,346h2v1h-2zM279,346h2v1h-2zM283,346h2v1h-2zM287,346h2v1h-2zM291,346h2v1h-2zM295,346h2v1h-2zM299,346h2v1h-2zM303,346h2v1h-2zM307,346h2v1h-2zM311,346h2v1h-2zM315,346h2v1h-2zM319,346h2v1h-2zM323,346h2v1h-2zM327,346h2v1h-2zM331,346h2v1h-2zM335,346h2v1h-2zM339,346h2v1h-2zM343,346h2v1h-2zM347,346h2v1h-2zM351,346h2v1h-2zM355,346h2v1h-2zM359,346h2v1h-2zM363,346h2v1h-2zM367,346h2v1h-2zM371,346h2v1h-2zM375,346h2v1h-2zM379,346h2v1h-2zM383,346h2v1h-2zM387,346h2v1h-2zM391,346h2v1h-2zM395,346h2v1h-2zM399,346h2v1h-2zM403,346h2v1h-2zM407,346h2v1h-2zM411,346h2v1h-2zM415,346h2v1h-2zM419,346h2v1h-2zM423,346h2v1h-2zM427,346h2v1h-2zM431,346h2v1h-2zM435,346h2v1h-2zM439,346h2v1h-2zM443,346h2v1h-2zM447,346h2v1h-2zM451,346h2v1h-2zM455,346h2v1h-2zM459,346h2v1h-2zM463,346h2v1h-2zM467,346h2v1h-2zM471,346h2v1h-2zM475,346h2v1h-2zM479,346h2v1h-2zM483,346h2v1h-2zM487,346h2v1h-2zM491,346h2v1h-2zM495,346h2v1h-2zM499,346h2v1h-2zM503,346h2v1h-2zM507,346h2v1h-2zM511,346h2v1h-2zM515,346h2v1h-2zM519,346h2v1h-2zM523,346h2v1h-2zM527,346h2v1h-2zM531,346h2v1h-2zM535,346h2v1h-2zM539,346h2v1h-2zM543,346h2v1h-2zM547,346h2v1h-2zM551,346h2v1h-2zM555,346h2v1h-2zM559,346h2v1h-2zM563,346h2v1h-2zM567,346h2v1h-2zM571,346h2v1h-2zM575,346h2v1h-2zM579,346h2v1h-2zM583,346h2v1h-2zM587,346h2v1h-2zM591,346h2v1h-2zM595,346h2v1h-2zM599,346h2v1h-2zM603,346h2v1h-2zM607,346h2v1h-2zM611,346h2v1h-2zM615,346h2v1h-2zM136,54h1v2h-1zM136,58h1v2h-1zM136,62h1v2h-1zM136,66h1v2h-1zM136,70h1v2h-1zM136,74h1v2h-1zM136,78h1v2h-1zM136,82h1v2h-1zM136,86h1v2h-1zM136,90h1v2h-1zM136,94h1v2h-1zM136,98h1v2h-1zM136,102h1v2h-1zM136,106h1v2h-1zM136,110h1v2h-1zM136,114h1v2h-1zM136,118h1v2h-1zM136,122h1v2h-1zM136,126h1v2h-1zM136,130h1v2h-1zM136,134h1v2h-1zM136,138h1v2h-1zM136,142h1v2h-1zM136,146h1v2h-1zM136,150h1v2h-1zM136,154h1v2h-1zM136,158h1v2h-1zM136,162h1v2h-1zM136,166h1v2h-1zM136,170h1v2h-1zM136,174h1v2h-1zM136,178h1v2h-1zM136,182h1v2h-1zM136,186h1v2h-1zM136,190h1v2h-1zM136,194h1v2h-1zM136,198h1v2h-1zM136,202h1v2h-1zM136,206h1v2h-1zM136,210h1v2h-1zM136,214h1v2h-1zM136,218h1v2h-1zM136,222h1v2h-1zM136,226h1v2h-1zM136,230h1v2h-1zM136,234h1v2h-1zM136,238h1v2h-1zM136,242h1v2h-1zM136,246h1v2h-1zM136,250h1v2h-1zM136,254h1v2h-1zM136,258h1v2h-1zM136,262h1v2h-1zM136,266h1v2h-1zM136,270h1v2h-1zM136,274h1v2h-1zM136,278h1v2h-1zM136,282h1v2h-1zM136,286h1v2h-1zM136,290h1v2h-1zM136,294h1v2h-1zM136,298h1v2h-1zM136,302h1v2h-1zM136,306h1v2h-1zM136,310h1v2h-1zM136,314h1v2h-1zM136,318h1v2h-1zM136,322h1v2h-1zM136,326h1v2h-1zM136,330h1v2h-1zM136,334h1v2h-1zM136,336h1v2h-1zM136,340h1v2h-1zM136,344h1v2h-1zM136,348h1v2h-1zM136,352h1v2h-1zM136,356h1v2h-1zM136,360h1v2h-1zM136,364h1v2h-1zM136,368h1v2h-1zM136,372h1v2h-1zM136,376h1v2h-1zM136,380h1v2h-1zM136,384h1v2h-1zM136,388h1v2h-1zM136,392h1v2h-1zM136,396h1v2h-1zM136,400h1v2h-1zM136,404h1v2h-1zM136,408h1v2h-1zM136,412h1v2h-1zM136,416h1v2h-1zM136,420h1v2h-1zM136,424h1v2h-1zM136,428h1v2h-1zM136,432h1v2h-1zM136,436h1v2h-1zM136,440h1v2h-1zM136,444h1v2h-1zM209,54h1v2h-1zM209,58h1v2h-1zM209,62h1v2h-1zM209,66h1v2h-1zM209,70h1v2h-1zM209,74h1v2h-1zM209,78h1v2h-1zM209,82h1v2h-1zM209,86h1v2h-1zM209,90h1v2h-1zM209,94h1v2h-1zM209,98h1v2h-1zM209,102h1v2h-1zM209,106h1v2h-1zM209,110h1v2h-1zM209,114h1v2h-1zM209,118h1v2h-1zM209,122h1v2h-1zM209,126h1v2h-1zM209,130h1v2h-1zM209,134h1v2h-1zM209,138h1v2h-1zM209,142h1v2h-1zM209,146h1v2h-1zM209,150h1v2h-1zM209,154h1v2h-1zM209,158h1v2h-1zM209,162h1v2h-1zM209,166h1v2h-1zM209,170h1v2h-1zM209,174h1v2h-1zM209,178h1v2h-1zM209,182h1v2h-1zM209,186h1v2h-1zM209,190h1v2h-1zM209,194h1v2h-1zM209,198h1v2h-1zM209,202h1v2h-1zM209,206h1v2h-1zM209,210h1v2h-1zM209,214h1v2h-1zM209,218h1v2h-1zM209,222h1v2h-1zM209,226h1v2h-1zM209,230h1v2h-1zM209,234h1v2h-1zM209,238h1v2h-1zM209,242h1v2h-1zM209,246h1v2h-1zM209,250h1v2h-1zM209,254h1v2h-1zM209,258h1v2h-1zM209,262h1v2h-1zM209,266h1v2h-1zM209,270h1v2h-1zM209,274h1v2h-1zM209,278h1v2h-1zM209,282h1v2h-1zM209,286h1v2h-1zM209,290h1v2h-1zM209,294h1v2h-1zM209,298h1v2h-1zM209,302h1v2h-1zM209,306h1v2h-1zM209,310h1v2h-1zM209,314h1v2h-1zM209,318h1v2h-1zM209,322h1v2h-1zM209,326h1v2h-1zM209,330h1v2h-1zM209,334h1v2h-1zM209,336h1v2h-1zM209,340h1v2h-1zM209,344h1v2h-1zM209,348h1v2h-1zM209,352h1v2h-1zM209,356h1v2h-1zM209,360h1v2h-1zM209,364h1v2h-1zM209,368h1v2h-1zM209,372h1v2h-1zM209,376h1v2h-1zM209,380h1v2h-1zM209,384h1v2h-1zM209,388h1v2h-1zM209,392h1v2h-1zM209,396h1v2h-1zM209,400h1v2h-1zM209,404h1v2h-1zM209,408h1v2h-1zM209,412h1v2h-1zM209,416h1v2h-1zM209,420h1v2h-1zM209,424h1v2h-1zM209,428h1v2h-1zM209,432h1v2h-1zM209,436h1v2h-1zM209,440h1v2h-1zM209,444h1v2h-1zM282,54h1v2h-1zM282,58h1v2h-1zM282,62h1v2h-1zM282,66h1v2h-1zM282,70h1v2h-1zM282,74h1v2h-1zM282,78h1v2h-1zM282,82h1v2h-1zM282,86h1v2h-1zM282,90h1v2h-1zM282,94h1v2h-1zM282,98h1v2h-1zM282,102h1v2h-1zM282,106h1v2h-1zM282,110h1v2h-1zM282,114h1v2h-1zM282,118h1v2h-1zM282,122h1v2h-1zM282,126h1v2h-1zM282,130h1v2h-1zM282,134h1v2h-1zM282,138h1v2h-1zM282,142h1v2h-1zM282,146h1v2h-1zM282,150h1v2h-1zM282,154h1v2h-1zM282,158h1v2h-1zM282,162h1v2h-1zM282,166h1v2h-1zM282,170h1v2h-1zM282,174h1v2h-1zM282,178h1v2h-1zM282,182h1v2h-1zM282,186h1v2h-1zM282,190h1v2h-1zM282,194h1v2h-1zM282,198h1v2h-1zM282,202h1v2h-1zM282,206h1v2h-1zM282,210h1v2h-1zM282,214h1v2h-1zM282,218h1v2h-1zM282,222h1v2h-1zM282,226h1v2h-1zM282,230h1v2h-1zM282,234h1v2h-1zM282,238h1v2h-1zM282,242h1v2h-1zM282,246h1v2h-1zM282,250h1v2h-1zM282,254h1v2h-1zM282,258h1v2h-1zM282,262h1v2h-1zM282,266h1v2h-1zM282,270h1v2h-1zM282,274h1v2h-1zM282,278h1v2h-1zM282,282h1v2h-1zM282,286h1v2h-1zM282,290h1v2h-1zM282,294h1v2h-1zM282,298h1v2h-1zM282,302h1v2h-1zM282,306h1v2h-1zM282,310h1v2h-1zM282,314h1v2h-1zM282,318h1v2h-1zM282,322h1v2h-1zM282,326h1v2h-1zM282,330h1v2h-1zM282,334h1v2h-1zM282,336h1v2h-1zM282,340h1v2h-1zM282,344h1v2h-1zM282,348h1v2h-1zM282,352h1v2h-1zM282,356h1v2h-1zM282,360h1v2h-1zM282,364h1v2h-1zM282,368h1v2h-1zM282,372h1v2h-1zM282,376h1v2h-1zM282,380h1v2h-1zM282,384h1v2h-1zM282,388h1v2h-1zM282,392h1v2h-1zM282,396h1v2h-1zM282,400h1v2h-1zM282,404h1v2h-1zM282,408h1v2h-1zM282,412h1v2h-1zM282,416h1v2h-1zM282,420h1v2h-1zM282,424h1v2h-1zM282,428h1v2h-1zM282,432h1v2h-1zM282,436h1v2h-1zM282,440h1v2h-1zM282,444h1v2h-1zM355,54h1v2h-1zM355,58h1v2h-1zM355,62h1v2h-1zM355,66h1v2h-1zM355,70h1v2h-1zM355,74h1v2h-1zM355,78h1v2h-1zM355,82h1v2h-1zM355,86h1v2h-1zM355,90h1v2h-1zM355,94h1v2h-1zM355,98h1v2h-1zM355,102h1v2h-1zM355,106h1v2h-1zM355,110h1v2h-1zM355,114h1v2h-1zM355,118h1v2h-1zM355,122h1v2h-1zM355,126h1v2h-1zM355,130h1v2h-1zM355,134h1v2h-1zM355,138h1v2h-1zM355,142h1v2h-1zM355,146h1v2h-1zM355,150h1v2h-1zM355,154h1v2h-1zM355,158h1v2h-1zM355,162h1v2h-1zM355,166h1v2h-1zM355,170h1v2h-1zM355,174h1v2h-1zM355,178h1v2h-1zM355,182h1v2h-1zM355,186h1v2h-1zM355,190h1v2h-1zM355,194h1v2h-1zM355,198h1v2h-1zM355,202h1v2h-1zM355,206h1v2h-1zM355,210h1v2h-1zM355,214h1v2h-1zM355,218h1v2h-1zM355,222h1v2h-1zM355,226h1v2h-1zM355,230h1v2h-1zM355,234h1v2h-1zM355,238h1v2h-1zM355,242h1v2h-1zM355,246h1v2h-1zM355,250h1v2h-1zM355,254h1v2h-1zM355,258h1v2h-1zM355,262h1v2h-1zM355,266h1v2h-1zM355,270h1v2h-1zM355,274h1v2h-1zM355,278h1v2h-1zM355,282h1v2h-1zM355,286h1v2h-1zM355,290h1v2h-1zM355,294h1v2h-1zM355,298h1v2h-1zM355,302h1v2h-1zM355,306h1v2h-1zM355,310h1v2h-1zM355,314h1v2h-1zM355,318h1v2h-1zM355,322h1v2h-1zM355,326h1v2h-1zM355,330h1v2h-1zM355,334h1v2h-1zM355,336h1v2h-1zM355,340h1v2h-1zM355,344h1v2h-1zM355,348h1v2h-1zM355,352h1v2h-1zM355,356h1v2h-1zM355,360h1v2h-1zM355,364h1v2h-1zM355,368h1v2h-1zM355,372h1v2h-1zM355,376h1v2h-1zM355,380h1v2h-1zM355,384h1v2h-1zM355,388h1v2h-1zM355,392h1v2h-1zM355,396h1v2h-1zM355,400h1v2h-1zM355,404h1v2h-1zM355,408h1v2h-1zM355,412h1v2h-1zM355,416h1v2h-1zM355,420h1v2h-1zM355,424h1v2h-1zM355,428h1v2h-1zM355,432h1v2h-1zM355,436h1v2h-1zM355,440h1v2h-1zM355,444h1v2h-1zM429,54h1v2h-1zM429,58h1v2h-1zM429,62h1v2h-1zM429,66h1v2h-1zM429,70h1v2h-1zM429,74h1v2h-1zM429,78h1v2h-1zM429,82h1v2h-1zM429,86h1v2h-1zM429,90h1v2h-1zM429,94h1v2h-1zM429,98h1v2h-1zM429,102h1v2h-1zM429,106h1v2h-1zM429,110h1v2h-1zM429,114h1v2h-1zM429,118h1v2h-1zM429,122h1v2h-1zM429,126h1v2h-1zM429,130h1v2h-1zM429,134h1v2h-1zM429,138h1v2h-1zM429,142h1v2h-1zM429,146h1v2h-1zM429,150h1v2h-1zM429,154h1v2h-1zM429,158h1v2h-1zM429,162h1v2h-1zM429,166h1v2h-1zM429,170h1v2h-1zM429,174h1v2h-1zM429,178h1v2h-1zM429,182h1v2h-1zM429,186h1v2h-1zM429,190h1v2h-1zM429,194h1v2h-1zM429,198h1v2h-1zM429,202h1v2h-1zM429,206h1v2h-1zM429,210h1v2h-1zM429,214h1v2h-1zM429,218h1v2h-1zM429,222h1v2h-1zM429,226h1v2h-1zM429,230h1v2h-1zM429,234h1v2h-1zM429,238h1v2h-1zM429,242h1v2h-1zM429,246h1v2h-1zM429,250h1v2h-1zM429,254h1v2h-1zM429,258h1v2h-1zM429,262h1v2h-1zM429,266h1v2h-1zM429,270h1v2h-1zM429,274h1v2h-1zM429,278h1v2h-1zM429,282h1v2h-1zM429,286h1v2h-1zM429,290h1v2h-1zM429,294h1v2h-1zM429,298h1v2h-1zM429,302h1v2h-1zM429,306h1v2h-1zM429,310h1v2h-1zM429,314h1v2h-1zM429,318h1v2h-1zM429,322h1v2h-1zM429,326h1v2h-1zM429,330h1v2h-1zM429,334h1v2h-1zM429,336h1v2h-1zM429,340h1v2h-1zM429,344h1v2h-1zM429,348h1v2h-1zM429,352h1v2h-1zM429,356h1v2h-1zM429,360h1v2h-1zM429,364h1v2h-1zM429,368h1v2h-1zM429,372h1v2h-1zM429,376h1v2h-1zM429,380h1v2h-1zM429,384h1v2h-1zM429,388h1v2h-1zM429,392h1v2h-1zM429,396h1v2h-1zM429,400h1v2h-1zM429,404h1v2h-1zM429,408h1v2h-1zM429,412h1v2h-1zM429,416h1v2h-1zM429,420h1v2h-1zM429,424h1v2h-1zM429,428h1v2h-1zM429,432h1v2h-1zM429,436h1v2h-1zM429,440h1v2h-1zM429,444h1v2h-1zM502,54h1v2h-1zM502,58h1v2h-1zM502,62h1v2h-1zM502,66h1v2h-1zM502,70h1v2h-1zM502,74h1v2h-1zM502,78h1v2h-1zM502,82h1v2h-1zM502,86h1v2h-1zM502,90h1v2h-1zM502,94h1v2h-1zM502,98h1v2h-1zM502,102h1v2h-1zM502,106h1v2h-1zM502,110h1v2h-1zM502,114h1v2h-1zM502,118h1v2h-1zM502,122h1v2h-1zM502,126h1v2h-1zM502,130h1v2h-1zM502,134h1v2h-1zM502,138h1v2h-1zM502,142h1v2h-1zM502,146h1v2h-1zM502,150h1v2h-1zM502,154h1v2h-1zM502,158h1v2h-1zM502,162h1v2h-1zM502,166h1v2h-1zM502,170h1v2h-1zM502,174h1v2h-1zM502,178h1v2h-1zM502,182h1v2h-1zM502,186h1v2h-1zM502,190h1v2h-1zM502,194h1v2h-1zM502,198h1v2h-1zM502,202h1v2h-1zM502,206h1v2h-1zM502,210h1v2h-1zM502,214h1v2h-1zM502,218h1v2h-1zM502,222h1v2h-1zM502,226h1v2h-1zM502,230h1v2h-1zM502,234h1v2h-1zM502,238h1v2h-1zM502,242h1v2h-1zM502,246h1v2h-1zM502,250h1v2h-1zM502,254h1v2h-1zM502,258h1v2h-1zM502,262h1v2h-1zM502,266h1v2h-1zM502,270h1v2h-1zM502,274h1v2h-1zM502,278h1v2h-1zM502,282h1v2h-1zM502,286h1v2h-1zM502,290h1v2h-1zM502,294h1v2h-1zM502,298h1v2h-1zM502,302h1v2h-1zM502,306h1v2h-1zM502,310h1v2h-1zM502,314h1v2h-1zM502,318h1v2h-1zM502,322h1v2h-1zM502,326h1v2h-1zM502,330h1v2h-1zM502,334h1v2h-1zM502,336h1v2h-1zM502,340h1v2h-1zM502,344h1v2h-1zM502,348h1v2h-1zM502,352h1v2h-1zM502,356h1v2h-1zM502,360h1v2h-1zM502,364h1v2h-1zM502,368h1v2h-1zM502,372h1v2h-1zM502,376h1v2h-1zM502,380h1v2h-1zM502,384h1v2h-1zM502,388h1v2h-1zM502,392h1v2h-1zM502,396h1v2h-1zM502,400h1v2h-1zM502,404h1v2h-1zM502,408h1v2h-1zM502,412h1v2h-1zM502,416h1v2h-1zM502,420h1v2h-1zM502,424h1v2h-1zM502,428h1v2h-1zM502,432h1v2h-1zM502,436h1v2h-1zM502,440h1v2h-1zM502,444h1v2h-1zM575,54h1v2h-1zM575,58h1v2h-1zM575,62h1v2h-1zM575,66h1v2h-1zM575,70h1v2h-1zM575,74h1v2h-1zM575,78h1v2h-1zM575,82h1v2h-1zM575,86h1v2h-1zM575,90h1v2h-1zM575,94h1v2h-1zM575,98h1v2h-1zM575,102h1v2h-1zM575,106h1v2h-1zM575,110h1v2h-1zM575,114h1v2h-1zM575,118h1v2h-1zM575,122h1v2h-1zM575,126h1v2h-1zM575,130h1v2h-1zM575,134h1v2h-1zM575,138h1v2h-1zM575,142h1v2h-1zM575,146h1v2h-1zM575,150h1v2h-1zM575,154h1v2h-1zM575,158h1v2h-1zM575,162h1v2h-1zM575,166h1v2h-1zM575,170h1v2h-1zM575,174h1v2h-1zM575,178h1v2h-1zM575,182h1v2h-1zM575,186h1v2h-1zM575,190h1v2h-1zM575,194h1v2h-1zM575,198h1v2h-1zM575,202h1v2h-1zM575,206h1v2h-1zM575,210h1v2h-1zM575,214h1v2h-1zM575,218h1v2h-1zM575,222h1v2h-1zM575,226h1v2h-1zM575,230h1v2h-1zM575,234h1v2h-1zM575,238h1v2h-1zM575,242h1v2h-1zM575,246h1v2h-1zM575,250h1v2h-1zM575,254h1v2h-1zM575,258h1v2h-1zM575,262h1v2h-1zM575,266h1v2h-1zM575,270h1v2h-1zM575,274h1v2h-1zM575,278h1v2h-1zM575,282h1v2h-1zM575,286h1v2h-1zM575,290h1v2h-1zM575,294h1v2h-1zM575,298h1v2h-1zM575,302h1v2h-1zM575,306h1v2h-1zM575,310h1v2h-1zM575,314h1v2h-1zM575,318h1v2h-1zM575,322h1v2h-1zM575,326h1v2h-1zM575,330h1v2h-1zM575,334h1v2h-1zM575,336h1v2h-1zM575,340h1v2h-1zM575,344h1v2h-1zM575,348h1v2h-1zM575,352h1v2h-1zM575,356h1v2h-1zM575,360h1v2h-1zM575,364h1v2h-1zM575,368h1v2h-1zM575,372h1v2h-1zM575,376h1v2h-1zM575,380h1v2h-1zM575,384h1v2h-1zM575,388h1v2h-1zM575,392h1v2h-1zM575,396h1v2h-1zM575,400h1v2h-1zM575,404h1v2h-1zM575,408h1v2h-1zM575,412h1v2h-1zM575,416h1v2h-1zM575,420h1v2h-1zM575,424h1v2h-1zM575,428h1v2h-1zM575,432h1v2h-1zM575,436h1v2h-1zM575,440h1v2h-1zM575,444h1v2h-1z" fill="#acaba6"/>
<path d="M99,51h519v1h-519zM99,335h519v1h-519zM99,445h519v1h-519zM99,51h1v395h-1zM617,51h1v395h-1zM100,278h4v1h-4zM613,278h4v1h-4zM100,221h4v1h-4zM613,221h4v1h-4zM100,165h4v1h-4zM613,165h4v1h-4zM100,108h4v1h-4zM613,108h4v1h-4zM100,434h4v1h-4zM613,434h4v1h-4zM100,423h4v1h-4zM613,423h4v1h-4zM100,412h4v1h-4zM613,412h4v1h-4zM100,401h4v1h-4zM613,401h4v1h-4zM100,390h4v1h-4zM613,390h4v1h-4zM100,379h4v1h-4zM613,379h4v1h-4zM100,368h4v1h-4zM613,368h4v1h-4zM100,357h4v1h-4zM613,357h4v1h-4zM100,346h4v1h-4zM613,346h4v1h-4zM136,52h1v4h-1zM136,331h1v9h-1zM136,441h1v4h-1zM209,52h1v4h-1zM209,331h1v9h-1zM209,441h1v4h-1zM282,52h1v4h-1zM282,331h1v9h-1zM282,441h1v4h-1zM355,52h1v4h-1zM355,331h1v9h-1zM355,441h1v4h-1zM429,52h1v4h-1zM429,331h1v9h-1zM429,441h1v4h-1zM502,52h1v4h-1zM502,331h1v9h-1zM502,441h1v4h-1zM575,52h1v4h-1zM575,331h1v9h-1zM575,441h1v4h-1zM172,52h1v2h-1zM172,333h1v5h-1zM172,443h1v2h-1zM246,52h1v2h-1zM246,333h1v5h-1zM246,443h1v2h-1zM319,52h1v2h-1zM319,333h1v5h-1zM319,443h1v2h-1zM392,52h1v2h-1zM392,333h1v5h-1zM392,443h1v2h-1zM465,52h1v2h-1zM465,333h1v5h-1zM465,443h1v2h-1zM539,52h1v2h-1zM539,333h1v5h-1zM539,443h1v2h-1zM612,52h1v2h-1zM612,333h1v5h-1zM612,443h1v2h-1z" fill="#80a8d8"/>
<path d="M104,419h1V445h-1zM120,400h1V445h-1zM157,417h1V445h-1zM162,396h1V445h-1zM177,389h1V445h-1zM193,394h1V445h-1zM198,410h1V445h-1zM204,384h1V445h-1zM214,392h1V445h-1zM235,417h1V445h-1zM246,412h1V445h-1zM251,412h1V445h-1zM266,414h1V445h-1zM272,404h1V445h-1zM277,407h1V445h-1zM287,415h1V445h-1zM308,421h1V445h-1zM314,396h1V445h-1zM324,403h1V445h-1zM350,412h1V445h-1zM361,407h1V445h-1zM382,408h1V445h-1zM413,420h1V445h-1zM423,414h1V445h-1zM429,423h1V445h-1zM434,414h1V445h-1zM450,408h1V445h-1zM460,392h1V445h-1zM497,400h1V445h-1zM502,408h1V445h-1zM596,403h1V445h-1zM601,407h1V445h-1zM612,386h1V445h-1z" fill="#00ff00"/>
<path d="M125,418h1V445h-1zM130,419h1V445h-1zM136,421h1V445h-1zM141,395h1V445h-1zM167,413h1V445h-1zM172,400h1V445h-1zM209,398h1V445h-1zM230,403h1V445h-1zM240,399h1V445h-1zM282,413h1V445h-1zM303,399h1V445h-1zM319,387h1V445h-1zM340,401h1V445h-1zM345,412h1V445h-1zM355,412h1V445h-1zM376,409h1V445h-1zM387,420h1V445h-1zM397,430h1V445h-1zM418,419h1V445h-1zM455,416h1V445h-1zM465,387h1V445h-1zM470,404h1V445h-1zM486,393h1V445h-1zM491,400h1V445h-1zM507,337h1V445h-1zM523,408h1V445h-1zM528,404h1V445h-1zM533,420h1V445h-1zM544,423h1V445h-1zM559,406h1V445h-1zM565,410h1V445h-1zM570,392h1V445h-1zM580,399h1V445h-1zM607,412h1V445h-1z" fill="#ff0000"/>
<path d="M502,140h1v1h-1zM501,141h2v1h-2zM500,142h1v1h-1zM503,142h1v1h-1zM499,143h1v1h-1zM503,143h1v1h-1zM498,144h1v1h-1zM503,144h1v1h-1zM496,145h2v1h-2zM503,145h1v1h-1zM494,146h2v1h-2zM504,146h1v1h-1zM492,147h2v1h-2zM504,147h1v1h-1zM490,148h2v1h-2zM504,148h1v1h-1zM488,149h2v1h-2zM505,149h1v1h-1zM484,150h4v1h-4zM505,150h1v1h-1zM478,151h6v1h-6zM505,151h1v1h-1zM473,152h5v1h-5zM505,152h1v1h-1zM470,153h3v1h-3zM506,153h1v1h-1zM468,154h2v1h-2zM506,154h1v1h-1zM460,155h3v1h-3zM466,155h2v1h-2zM506,155h1v1h-1zM460,156h1v1h-1zM463,156h3v1h-3zM506,156h1v1h-1zM460,157h1v1h-1zM507,157h1v1h-1zM612,157h1v1h-1zM459,158h1v1h-1zM507,158h2v1h-2zM612,158h1v1h-1zM459,159h1v1h-1zM509,159h2v1h-2zM611,159h1v1h-1zM459,160h1v1h-1zM511,160h2v1h-2zM611,160h1v1h-1zM459,161h1v1h-1zM513,161h2v1h-2zM611,161h1v1h-1zM459,162h1v1h-1zM515,162h3v1h-3zM610,162h1v1h-1zM459,163h1v1h-1zM518,163h2v1h-2zM610,163h1v1h-1zM458,164h1v1h-1zM520,164h2v1h-2zM610,164h1v1h-1zM458,165h1v1h-1zM522,165h2v1h-2zM609,165h1v1h-1zM458,166h1v1h-1zM524,166h1v1h-1zM609,166h1v1h-1zM458,167h1v1h-1zM524,167h1v1h-1zM601,167h1v1h-1zM609,167h1v1h-1zM458,168h1v1h-1zM525,168h1v1h-1zM600,168h1v1h-1zM602,168h1v1h-1zM608,168h1v1h-1zM458,169h1v1h-1zM526,169h1v1h-1zM599,169h1v1h-1zM603,169h1v1h-1zM608,169h1v1h-1zM457,170h1v1h-1zM527,170h1v1h-1zM598,170h1v1h-1zM604,170h2v1h-2zM608,170h1v1h-1zM457,171h1v1h-1zM527,171h1v1h-1zM598,171h1v1h-1zM606,171h2v1h-2zM457,172h1v1h-1zM528,172h2v1h-2zM597,172h1v1h-1zM607,172h1v1h-1zM457,173h1v1h-1zM530,173h2v1h-2zM596,173h1v1h-1zM457,174h1v1h-1zM532,174h3v1h-3zM595,174h1v1h-1zM457,175h1v1h-1zM535,175h3v1h-3zM594,175h1v1h-1zM456,176h1v1h-1zM538,176h2v1h-2zM593,176h1v1h-1zM456,177h1v1h-1zM540,177h3v1h-3zM592,177h1v1h-1zM456,178h1v1h-1zM543,178h4v1h-4zM591,178h1v1h-1zM456,179h1v1h-1zM547,179h5v1h-5zM590,179h1v1h-1zM456,180h1v1h-1zM552,180h5v1h-5zM588,180h2v1h-2zM456,181h1v1h-1zM557,181h3v1h-3zM587,181h1v1h-1zM423,182h3v1h-3zM455,182h1v1h-1zM560,182h1v1h-1zM586,182h1v1h-1zM423,183h1v1h-1zM426,183h4v1h-4zM455,183h1v1h-1zM561,183h1v1h-1zM585,183h1v1h-1zM422,184h1v1h-1zM430,184h2v1h-2zM446,184h7v1h-7zM455,184h1v1h-1zM562,184h2v1h-2zM584,184h1v1h-1zM120,185h1v1h-1zM422,185h1v1h-1zM432,185h2v1h-2zM438,185h8v1h-8zM453,185h3v1h-3zM564,185h1v1h-1zM583,185h1v1h-1zM118,186h2v1h-2zM121,186h1v1h-1zM422,186h1v1h-1zM434,186h4v1h-4zM565,186h1v1h-1zM582,186h1v1h-1zM116,187h2v1h-2zM122,187h1v1h-1zM422,187h1v1h-1zM566,187h1v1h-1zM581,187h1v1h-1zM115,188h1v1h-1zM123,188h1v1h-1zM421,188h1v1h-1zM567,188h1v1h-1zM579,188h2v1h-2zM113,189h2v1h-2zM124,189h1v1h-1zM421,189h1v1h-1zM568,189h1v1h-1zM577,189h2v1h-2zM112,190h1v1h-1zM125,190h1v1h-1zM214,190h1v1h-1zM421,190h1v1h-1zM568,190h1v1h-1zM574,190h3v1h-3zM110,191h2v1h-2zM126,191h2v1h-2zM214,191h2v1h-2zM420,191h1v1h-1zM569,191h1v1h-1zM572,191h2v1h-2zM108,192h2v1h-2zM128,192h2v1h-2zM214,192h1v1h-1zM216,192h1v1h-1zM420,192h1v1h-1zM570,192h2v1h-2zM107,193h1v1h-1zM130,193h1v1h-1zM213,193h1v1h-1zM217,193h1v1h-1zM420,193h1v1h-1zM105,194h2v1h-2zM131,194h1v1h-1zM213,194h1v1h-1zM218,194h1v1h-1zM419,194h1v1h-1zM104,195h1v1h-1zM132,195h1v1h-1zM213,195h1v1h-1zM219,195h1v1h-1zM382,195h1v1h-1zM419,195h1v1h-1zM103,196h1v1h-1zM132,196h1v1h-1zM213,196h1v1h-1zM220,196h1v1h-1zM382,196h2v1h-2zM419,196h1v1h-1zM103,197h1v1h-1zM133,197h1v1h-1zM213,197h1v1h-1zM221,197h1v1h-1zM381,197h1v1h-1zM384,197h2v1h-2zM412,197h3v1h-3zM419,197h1v1h-1zM102,198h1v1h-1zM134,198h1v1h-1zM213,198h1v1h-1zM222,198h2v1h-2zM381,198h1v1h-1zM386,198h1v1h-1zM410,198h2v1h-2zM415,198h2v1h-2zM418,198h1v1h-1zM101,199h1v1h-1zM135,199h1v1h-1zM212,199h1v1h-1zM224,199h1v1h-1zM381,199h1v1h-1zM387,199h1v1h-1zM408,199h2v1h-2zM417,199h2v1h-2zM100,200h1v1h-1zM135,200h1v1h-1zM212,200h1v1h-1zM225,200h1v1h-1zM381,200h1v1h-1zM388,200h2v1h-2zM405,200h3v1h-3zM100,201h1v1h-1zM136,201h1v1h-1zM162,201h1v1h-1zM212,201h1v1h-1zM226,201h1v1h-1zM380,201h1v1h-1zM390,201h2v1h-2zM403,201h2v1h-2zM99,202h1v1h-1zM136,202h1v1h-1zM162,202h1v1h-1zM212,202h1v1h-1zM227,202h1v1h-1zM380,202h1v1h-1zM392,202h2v1h-2zM401,202h2v1h-2zM136,203h1v1h-1zM161,203h1v1h-1zM163,203h1v1h-1zM204,203h1v1h-1zM212,203h1v1h-1zM228,203h1v1h-1zM380,203h1v1h-1zM394,203h2v1h-2zM399,203h2v1h-2zM136,204h1v1h-1zM161,204h1v1h-1zM163,204h1v1h-1zM204,204h1v1h-1zM212,204h1v1h-1zM229,204h1v1h-1zM233,204h3v1h-3zM380,204h1v1h-1zM396,204h3v1h-3zM137,205h1v1h-1zM161,205h1v1h-1zM163,205h1v1h-1zM203,205h1v1h-1zM205,205h1v1h-1zM211,205h1v1h-1zM230,205h3v1h-3zM235,205h1v1h-1zM379,205h1v1h-1zM137,206h1v1h-1zM160,206h1v1h-1zM164,206h1v1h-1zM203,206h1v1h-1zM205,206h1v1h-1zM211,206h1v1h-1zM235,206h1v1h-1zM314,206h1v1h-1zM379,206h1v1h-1zM137,207h1v1h-1zM160,207h1v1h-1zM164,207h1v1h-1zM202,207h1v1h-1zM205,207h1v1h-1zM211,207h1v1h-1zM236,207h1v1h-1zM314,207h1v1h-1zM379,207h1v1h-1zM137,208h1v1h-1zM160,208h1v1h-1zM165,208h1v1h-1zM202,208h1v1h-1zM205,208h1v1h-1zM211,208h1v1h-1zM236,208h1v1h-1zM313,208h1v1h-1zM315,208h1v1h-1zM379,208h1v1h-1zM137,209h1v1h-1zM159,209h1v1h-1zM165,209h1v1h-1zM202,209h1v1h-1zM206,209h1v1h-1zM211,209h1v1h-1zM236,209h1v1h-1zM313,209h1v1h-1zM315,209h1v1h-1zM378,209h1v1h-1zM137,210h1v1h-1zM159,210h1v1h-1zM165,210h1v1h-1zM201,210h1v1h-1zM206,210h1v1h-1zM211,210h1v1h-1zM236,210h1v1h-1zM312,210h1v1h-1zM315,210h1v1h-1zM361,210h1v1h-1zM378,210h1v1h-1zM138,211h1v1h-1zM159,211h1v1h-1zM166,211h1v1h-1zM201,211h1v1h-1zM206,211h1v1h-1zM210,211h1v1h-1zM236,211h1v1h-1zM312,211h1v1h-1zM315,211h1v1h-1zM361,211h3v1h-3zM378,211h1v1h-1zM138,212h1v1h-1zM159,212h1v1h-1zM166,212h1v1h-1zM200,212h1v1h-1zM207,212h1v1h-1zM210,212h1v1h-1zM237,212h1v1h-1zM311,212h1v1h-1zM316,212h1v1h-1zM361,212h1v1h-1zM364,212h2v1h-2zM378,212h1v1h-1zM138,213h1v1h-1zM158,213h1v1h-1zM166,213h1v1h-1zM200,213h1v1h-1zM207,213h1v1h-1zM210,213h1v1h-1zM237,213h1v1h-1zM311,213h1v1h-1zM316,213h1v1h-1zM360,213h1v1h-1zM366,213h1v1h-1zM377,213h1v1h-1zM138,214h1v1h-1zM158,214h1v1h-1zM167,214h1v1h-1zM200,214h1v1h-1zM207,214h1v1h-1zM210,214h1v1h-1zM237,214h1v1h-1zM310,214h1v1h-1zM316,214h1v1h-1zM360,214h1v1h-1zM367,214h2v1h-2zM377,214h1v1h-1zM138,215h1v1h-1zM158,215h1v1h-1zM167,215h1v1h-1zM199,215h1v1h-1zM208,215h1v1h-1zM210,215h1v1h-1zM237,215h1v1h-1zM310,215h1v1h-1zM316,215h1v1h-1zM360,215h1v1h-1zM369,215h2v1h-2zM377,215h1v1h-1zM138,216h1v1h-1zM157,216h1v1h-1zM167,216h1v1h-1zM199,216h1v1h-1zM208,216h1v1h-1zM210,216h1v1h-1zM237,216h1v1h-1zM309,216h1v1h-1zM317,216h1v1h-1zM360,216h1v1h-1zM371,216h1v1h-1zM377,216h1v1h-1zM139,217h1v1h-1zM157,217h1v1h-1zM167,217h1v1h-1zM198,217h1v1h-1zM208,217h2v1h-2zM238,217h1v1h-1zM309,217h1v1h-1zM317,217h1v1h-1zM359,217h1v1h-1zM372,217h2v1h-2zM376,217h1v1h-1zM139,218h1v1h-1zM156,218h1v1h-1zM167,218h1v1h-1zM198,218h1v1h-1zM208,218h2v1h-2zM238,218h1v1h-1zM308,218h1v1h-1zM317,218h1v1h-1zM359,218h1v1h-1zM374,218h3v1h-3zM139,219h1v1h-1zM155,219h1v1h-1zM167,219h1v1h-1zM198,219h1v1h-1zM209,219h1v1h-1zM238,219h1v1h-1zM308,219h1v1h-1zM317,219h1v1h-1zM359,219h1v1h-1zM376,219h1v1h-1zM139,220h1v1h-1zM154,220h1v1h-1zM168,220h1v1h-1zM197,220h1v1h-1zM209,220h1v1h-1zM238,220h1v1h-1zM306,220h2v1h-2zM318,220h1v1h-1zM324,220h1v1h-1zM359,220h1v1h-1zM139,221h1v1h-1zM153,221h1v1h-1zM168,221h1v1h-1zM197,221h1v1h-1zM238,221h1v1h-1zM304,221h2v1h-2zM318,221h1v1h-1zM323,221h1v1h-1zM325,221h1v1h-1zM358,221h1v1h-1zM139,222h1v1h-1zM152,222h1v1h-1zM168,222h1v1h-1zM196,222h1v1h-1zM239,222h1v1h-1zM295,222h9v1h-9zM318,222h1v1h-1zM322,222h1v1h-1zM326,222h1v1h-1zM358,222h1v1h-1zM140,223h1v1h-1zM151,223h1v1h-1zM168,223h1v1h-1zM196,223h1v1h-1zM239,223h1v1h-1zM287,223h8v1h-8zM318,223h1v1h-1zM321,223h1v1h-1zM327,223h1v1h-1zM358,223h1v1h-1zM140,224h1v1h-1zM149,224h2v1h-2zM168,224h1v1h-1zM195,224h1v1h-1zM239,224h1v1h-1zM287,224h1v1h-1zM319,224h2v1h-2zM328,224h1v1h-1zM358,224h1v1h-1zM140,225h1v1h-1zM148,225h1v1h-1zM168,225h1v1h-1zM195,225h1v1h-1zM239,225h1v1h-1zM277,225h1v1h-1zM286,225h1v1h-1zM319,225h1v1h-1zM328,225h1v1h-1zM357,225h1v1h-1zM140,226h1v1h-1zM147,226h1v1h-1zM168,226h1v1h-1zM195,226h1v1h-1zM239,226h1v1h-1zM245,226h2v1h-2zM265,226h2v1h-2zM277,226h1v1h-1zM286,226h1v1h-1zM329,226h1v1h-1zM357,226h1v1h-1zM140,227h1v1h-1zM146,227h1v1h-1zM168,227h1v1h-1zM194,227h1v1h-1zM240,227h1v1h-1zM243,227h2v1h-2zM247,227h1v1h-1zM263,227h2v1h-2zM267,227h1v1h-1zM276,227h1v1h-1zM278,227h1v1h-1zM285,227h1v1h-1zM330,227h1v1h-1zM357,227h1v1h-1zM140,228h1v1h-1zM145,228h1v1h-1zM168,228h1v1h-1zM194,228h1v1h-1zM240,228h3v1h-3zM247,228h1v1h-1zM261,228h2v1h-2zM267,228h1v1h-1zM276,228h1v1h-1zM278,228h1v1h-1zM285,228h1v1h-1zM331,228h1v1h-1zM357,228h1v1h-1zM141,229h1v1h-1zM144,229h1v1h-1zM169,229h1v1h-1zM193,229h1v1h-1zM240,229h1v1h-1zM248,229h1v1h-1zM259,229h2v1h-2zM268,229h1v1h-1zM275,229h1v1h-1zM279,229h1v1h-1zM285,229h1v1h-1zM332,229h1v1h-1zM356,229h1v1h-1zM141,230h1v1h-1zM143,230h1v1h-1zM169,230h1v1h-1zM193,230h1v1h-1zM249,230h1v1h-1zM257,230h2v1h-2zM268,230h1v1h-1zM275,230h1v1h-1zM279,230h1v1h-1zM284,230h1v1h-1zM333,230h1v1h-1zM356,230h1v1h-1zM141,231h2v1h-2zM169,231h1v1h-1zM192,231h1v1h-1zM250,231h1v1h-1zM255,231h2v1h-2zM269,231h1v1h-1zM275,231h1v1h-1zM280,231h1v1h-1zM284,231h1v1h-1zM334,231h1v1h-1zM356,231h1v1h-1zM141,232h1v1h-1zM169,232h1v1h-1zM191,232h1v1h-1zM250,232h1v1h-1zM253,232h2v1h-2zM269,232h1v1h-1zM274,232h1v1h-1zM280,232h1v1h-1zM284,232h1v1h-1zM335,232h1v1h-1zM356,232h1v1h-1zM169,233h1v1h-1zM190,233h1v1h-1zM251,233h2v1h-2zM270,233h1v1h-1zM274,233h1v1h-1zM281,233h1v1h-1zM283,233h1v1h-1zM336,233h1v1h-1zM355,233h1v1h-1zM169,234h1v1h-1zM189,234h1v1h-1zM270,234h1v1h-1zM274,234h1v1h-1zM281,234h1v1h-1zM283,234h1v1h-1zM336,234h1v1h-1zM355,234h1v1h-1zM169,235h1v1h-1zM188,235h1v1h-1zM271,235h1v1h-1zM273,235h1v1h-1zM282,235h1v1h-1zM337,235h1v1h-1zM353,235h3v1h-3zM169,236h1v1h-1zM187,236h1v1h-1zM271,236h1v1h-1zM273,236h1v1h-1zM282,236h1v1h-1zM338,236h1v1h-1zM350,236h3v1h-3zM170,237h1v1h-1zM186,237h1v1h-1zM272,237h1v1h-1zM339,237h1v1h-1zM349,237h1v1h-1zM170,238h1v1h-1zM185,238h1v1h-1zM272,238h1v1h-1zM340,238h1v1h-1zM348,238h1v1h-1zM170,239h1v1h-1zM184,239h1v1h-1zM341,239h2v1h-2zM347,239h1v1h-1zM170,240h1v1h-1zM183,240h1v1h-1zM343,240h2v1h-2zM346,240h1v1h-1zM170,241h1v1h-1zM182,241h1v1h-1zM345,241h1v1h-1zM170,242h1v1h-1zM181,242h1v1h-1zM170,243h1v1h-1zM180,243h1v1h-1zM170,244h1v1h-1zM179,244h1v1h-1zM170,245h1v1h-1zM178,245h1v1h-1zM171,246h1v1h-1zM177,246h1v1h-1zM171,247h1v1h-1zM177,247h1v1h-1zM171,248h1v1h-1zM176,248h1v1h-1zM171,249h1v1h-1zM176,249h1v1h-1zM171,250h1v1h-1zM175,250h1v1h-1zM171,251h1v1h-1zM175,251h1v1h-1zM171,252h1v1h-1zM175,252h1v1h-1zM171,253h1v1h-1zM174,253h1v1h-1zM171,254h1v1h-1zM174,254h1v1h-1zM172,255h1v1h-1zM174,255h1v1h-1zM172,256h2v1h-2zM172,257h2v1h-2zM172,258h1v1h-1zM172,259h1v1h-1z" fill="#f0e040"/>
<text transform="matrix(0.838 0 0 1 225.85 31)" fill="#ffff00">P</text>
<text transform="matrix(0.816 0 0 1 235.52 31)" fill="#ffff00">E</text>
<text transform="matrix(0.917 0 0 1 245.50 31)" fill="#ffff00">B</text>
<text transform="matrix(0.907 0 0 1 256.46 31)" fill="#ffff00">O</text>
<text transform="matrix(1.224 0 0 1 274.08 30)" fill="#ffff00">-</text>
<text transform="matrix(0.833 0 0 1 287.57 31)" fill="#ffff00">l</text>
<text transform="matrix(0.860 0 0 1 291.72 31)" fill="#ffff00">a</text>
<text transform="matrix(0.907 0 0 1 301.49 31)" fill="#ffff00">s</text>
<text transform="matrix(1.257 0 0 1 309.74 31)" fill="#ffff00">t</text>
<text transform="matrix(1.002 0 0 1 321.70 31)" fill="#ffff00">u</text>
<text transform="matrix(1.000 0 0 1 331.83 31)" fill="#ffff00">p</text>
<text transform="matrix(1.000 0 0 1 341.75 31)" fill="#ffff00">d</text>
<text transform="matrix(0.858 0 0 1 352.00 31)" fill="#ffff00">a</text>
<text transform="matrix(1.254 0 0 1 361.64 31)" fill="#ffff00">t</text>
<text transform="matrix(0.999 0 0 1 367.96 31)" fill="#ffff00">e</text>
<text transform="matrix(1.000 0 0 1 377.80 31)" fill="#ffff00">d</text>
<text transform="matrix(1.082 0 0 1 393.59 31)" fill="#ffff00">0</text>
<text transform="matrix(1.082 0 0 1 404.28 31)" fill="#ffff00">8</text>
<text transform="matrix(1.179 0 0 1 414.76 31)" fill="#ffff00">/</text>
<text transform="matrix(1.082 0 0 1 420.63 31)" fill="#ffff00">0</text>
<text transform="matrix(0.984 0 0 1 431.66 31)" fill="#ffff00">1</text>
<text transform="matrix(1.179 0 0 1 441.80 31)" fill="#ffff00">/</text>
<text transform="matrix(0.955 0 0 1 448.02 31)" fill="#ffff00">2</text>
<text transform="matrix(1.082 0 0 1 458.35 31)" fill="#ffff00">0</text>
<text transform="matrix(0.955 0 0 1 469.39 31)" fill="#ffff00">2</text>
<text transform="matrix(1.050 0 0 1 480.01 31)" fill="#ffff00">6</text>
<text transform="matrix(1.074 0 0 1 66.99 56)" fill="#80a8d8">3</text>
<text transform="matrix(1.041 0 0 1 78.29 56)" fill="#80a8d8">5</text>
<text transform="matrix(1.060 0 0 1 67.01 113)" fill="#80a8d8">3</text>
<text transform="matrix(1.060 0 0 1 78.13 113)" fill="#80a8d8">3</text>
<text transform="matrix(1.074 0 0 1 66.99 170)" fill="#80a8d8">3</text>
<text transform="matrix(1.038 0 0 1 78.31 170)" fill="#80a8d8">1</text>
<text transform="matrix(0.993 0 0 1 67.05 226)" fill="#80a8d8">2</text>
<text transform="matrix(1.093 0 0 1 77.84 226)" fill="#80a8d8">9</text>
<text transform="matrix(1.007 0 0 1 67.04 283)" fill="#80a8d8">2</text>
<text transform="matrix(1.041 0 0 1 78.29 283)" fill="#80a8d8">7</text>
<text transform="matrix(1.000 0 0 1 77.25 450)" fill="#80a8d8">0</text>
<text transform="matrix(1.000 0 0 1 77.25 439)" fill="#80a8d8">5</text>
<text transform="matrix(1.038 0 0 1 66.50 428)" fill="#80a8d8">1</text>
<text transform="matrix(1.141 0 0 1 77.41 428)" fill="#80a8d8">0</text>
<text transform="matrix(1.068 0 0 1 66.47 417)" fill="#80a8d8">1</text>
<text transform="matrix(1.070 0 0 1 78.04 417)" fill="#80a8d8">5</text>
<text transform="matrix(0.980 0 0 1 67.06 406)" fill="#80a8d8">2</text>
<text transform="matrix(1.111 0 0 1 77.68 406)" fill="#80a8d8">0</text>
<text transform="matrix(1.007 0 0 1 67.04 395)" fill="#80a8d8">2</text>
<text transform="matrix(1.041 0 0 1 78.29 395)" fill="#80a8d8">5</text>
<text transform="matrix(1.046 0 0 1 67.02 384)" fill="#80a8d8">3</text>
<text transform="matrix(1.111 0 0 1 77.68 384)" fill="#80a8d8">0</text>
<text transform="matrix(1.074 0 0 1 66.99 373)" fill="#80a8d8">3</text>
<text transform="matrix(1.041 0 0 1 78.29 373)" fill="#80a8d8">5</text>
<text transform="matrix(1.018 0 0 1 67.55 362)" fill="#80a8d8">4</text>
<text transform="matrix(1.082 0 0 1 77.93 362)" fill="#80a8d8">0</text>
<text transform="matrix(1.046 0 0 1 67.54 351)" fill="#80a8d8">4</text>
<text transform="matrix(1.013 0 0 1 78.54 351)" fill="#80a8d8">5</text>
<text transform="matrix(1.013 0 0 1 67.04 340)" fill="#80a8d8">5</text>
<text transform="matrix(1.111 0 0 1 77.68 340)" fill="#80a8d8">0</text>
<text transform="matrix(1.085 0 0 1 111.69 467)" fill="#80a8d8">0</text>
<text transform="matrix(1.053 0 0 1 122.43 467)" fill="#80a8d8">9</text>
<text transform="matrix(1.081 0 0 1 132.86 466)" fill="#80a8d8">-</text>
<text transform="matrix(0.987 0 0 1 139.54 467)" fill="#80a8d8">1</text>
<text transform="matrix(1.085 0 0 1 149.91 467)" fill="#80a8d8">0</text>
<text transform="matrix(0.954 0 0 1 185.08 467)" fill="#80a8d8">2</text>
<text transform="matrix(1.018 0 0 1 195.72 467)" fill="#80a8d8">3</text>
<text transform="matrix(1.078 0 0 1 205.85 466)" fill="#80a8d8">-</text>
<text transform="matrix(0.984 0 0 1 212.50 467)" fill="#80a8d8">1</text>
<text transform="matrix(1.081 0 0 1 222.84 467)" fill="#80a8d8">0</text>
<text transform="matrix(1.070 0 0 1 257.95 467)" fill="#80a8d8">0</text>
<text transform="matrix(1.038 0 0 1 268.79 467)" fill="#80a8d8">6</text>
<text transform="matrix(1.066 0 0 1 278.83 466)" fill="#80a8d8">-</text>
<text transform="matrix(0.973 0 0 1 285.42 467)" fill="#80a8d8">1</text>
<text transform="matrix(0.973 0 0 1 295.98 467)" fill="#80a8d8">1</text>
<text transform="matrix(0.959 0 0 1 330.53 467)" fill="#80a8d8">2</text>
<text transform="matrix(1.087 0 0 1 340.92 467)" fill="#80a8d8">0</text>
<text transform="matrix(1.084 0 0 1 351.41 466)" fill="#80a8d8">-</text>
<text transform="matrix(0.989 0 0 1 358.10 467)" fill="#80a8d8">1</text>
<text transform="matrix(0.989 0 0 1 368.84 467)" fill="#80a8d8">1</text>
<text transform="matrix(1.103 0 0 1 404.77 467)" fill="#80a8d8">0</text>
<text transform="matrix(1.038 0 0 1 415.97 467)" fill="#80a8d8">4</text>
<text transform="matrix(1.099 0 0 1 426.30 466)" fill="#80a8d8">-</text>
<text transform="matrix(1.003 0 0 1 433.09 467)" fill="#80a8d8">1</text>
<text transform="matrix(0.973 0 0 1 443.99 467)" fill="#80a8d8">2</text>
<text transform="matrix(0.985 0 0 1 478.47 467)" fill="#80a8d8">1</text>
<text transform="matrix(1.083 0 0 1 488.82 467)" fill="#80a8d8">8</text>
<text transform="matrix(1.079 0 0 1 499.27 466)" fill="#80a8d8">-</text>
<text transform="matrix(0.985 0 0 1 505.93 467)" fill="#80a8d8">1</text>
<text transform="matrix(0.956 0 0 1 516.64 467)" fill="#80a8d8">2</text>
<text transform="matrix(1.080 0 0 1 551.39 467)" fill="#80a8d8">0</text>
<text transform="matrix(0.983 0 0 1 562.41 467)" fill="#80a8d8">1</text>
<text transform="matrix(1.076 0 0 1 572.48 466)" fill="#80a8d8">-</text>
<text transform="matrix(1.080 0 0 1 578.78 467)" fill="#80a8d8">0</text>
<text transform="matrix(0.983 0 0 1 589.80 467)" fill="#80a8d8">1</text>
<g transform="translate(53,0) rotate(-90)">
<text transform="matrix(0.885 0 0 1 -212.36 0)" fill="#80a8d8">P</text>
<text transform="matrix(1.194 0 0 1 -202.26 0)" fill="#80a8d8">r</text>
<text transform="matrix(0.877 0 0 1 -195.29 0)" fill="#80a8d8">i</text>
<text transform="matrix(0.988 0 0 1 -190.97 0)" fill="#80a8d8">c</text>
<text transform="matrix(1.056 0 0 1 -181.74 0)" fill="#80a8d8">e</text>
</g>
<g transform="translate(53,0) rotate(-90)">
<text transform="matrix(0.974 0 0 1 -450.50 0)" fill="#80a8d8">V</text>
<text transform="matrix(1.027 0 0 1 -439.28 0)" fill="#80a8d8">o</text>
<text transform="matrix(0.854 0 0 1 -430.09 0)" fill="#80a8d8">l</text>
<text transform="matrix(1.030 0 0 1 -425.70 0)" fill="#80a8d8">u</text>
<text transform="matrix(1.100 0 0 1 -415.35 0)" fill="#80a8d8">m</text>
<text transform="matrix(1.027 0 0 1 -399.51 0)" fill="#80a8d8">e</text>
<text transform="matrix(0.800 0 0 1 -383.77 0)" fill="#80a8d8">(</text>
<text transform="matrix(1.058 0 0 1 -377.79 0)" fill="#80a8d8">0</text>
<text transform="matrix(1.058 0 0 1 -367.34 0)" fill="#80a8d8">0</text>
<text transform="matrix(1.058 0 0 1 -356.88 0)" fill="#80a8d8">0</text>
<text transform="matrix(1.058 0 0 1 -346.43 0)" fill="#80a8d8">0</text>
<text transform="matrix(0.830 0 0 1 -335.14 0)" fill="#80a8d8">)</text>
</g>
</svg></body></html>
